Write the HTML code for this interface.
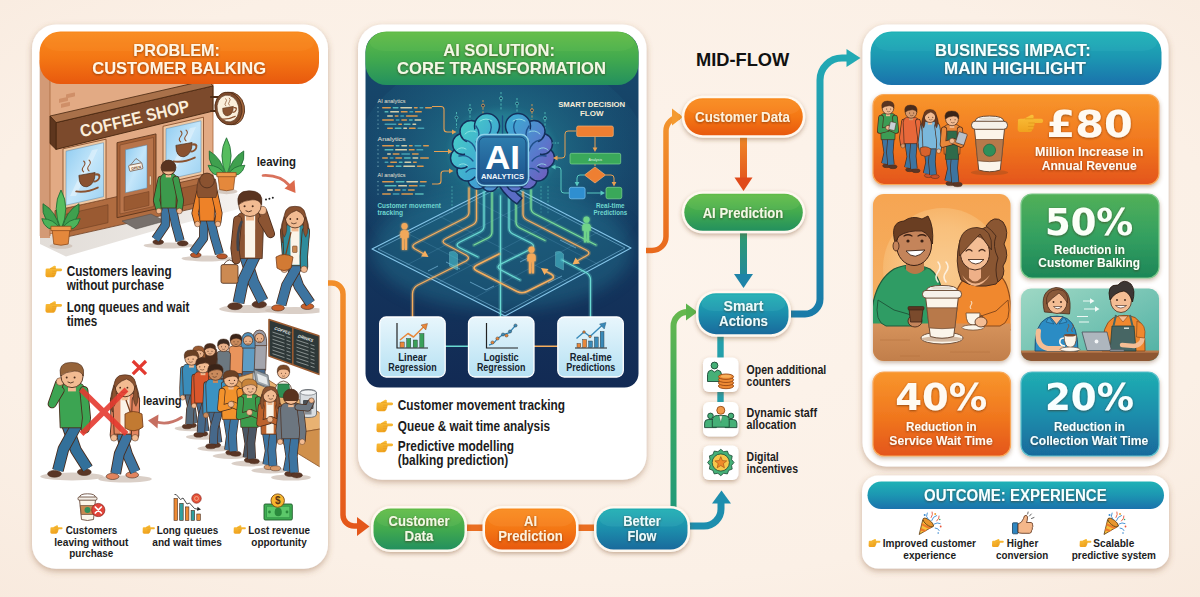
<!DOCTYPE html>
<html lang="en"><head><meta charset="utf-8"><title>AI solution for customer balking</title>
<style>
html,body{margin:0;padding:0;background:#fbeee2;}
body{width:1200px;height:597px;overflow:hidden;}
svg{display:block;font-family:"Liberation Sans", "DejaVu Sans", sans-serif;}
</style></head>
<body>
<svg width="1200" height="597" viewBox="0 0 1200 597">
<defs>
<radialGradient id="bg" cx="50%" cy="45%" r="75%">
 <stop offset="0" stop-color="#fdf4ec"/><stop offset="0.7" stop-color="#fbf0e6"/><stop offset="1" stop-color="#f8eade"/>
</radialGradient>
<filter id="sh" x="-10%" y="-10%" width="120%" height="125%">
 <feDropShadow dx="0" dy="2.5" stdDeviation="3" flood-color="#8a5a34" flood-opacity="0.42"/>
</filter>
<filter id="shs" x="-15%" y="-20%" width="130%" height="150%">
 <feDropShadow dx="0" dy="2" stdDeviation="2" flood-color="#7a4a20" flood-opacity="0.40"/>
</filter>
<filter id="ts" x="-5%" y="-20%" width="110%" height="150%">
 <feDropShadow dx="0" dy="0.8" stdDeviation="0.8" flood-color="#4a2200" flood-opacity="0.6"/>
</filter>
<filter id="glow" x="-20%" y="-20%" width="140%" height="140%">
 <feGaussianBlur stdDeviation="1.2" result="b"/><feMerge><feMergeNode in="b"/><feMergeNode in="SourceGraphic"/></feMerge>
</filter>
<filter id="blur3"><feGaussianBlur stdDeviation="3"/></filter>
<filter id="blur8"><feGaussianBlur stdDeviation="8"/></filter>
<linearGradient id="gOr" x1="0" y1="0" x2="0" y2="1">
 <stop offset="0" stop-color="#f98a1e"/><stop offset="0.5" stop-color="#f47714"/><stop offset="1" stop-color="#e8590e"/>
</linearGradient>
<linearGradient id="gOrBox" x1="0" y1="0" x2="0" y2="1">
 <stop offset="0" stop-color="#f8962c"/><stop offset="0.55" stop-color="#f0761e"/><stop offset="1" stop-color="#e4551a"/>
</linearGradient>
<linearGradient id="gGr" x1="0" y1="0" x2="0" y2="1">
 <stop offset="0" stop-color="#62bc48"/><stop offset="0.5" stop-color="#42aa4e"/><stop offset="1" stop-color="#23905e"/>
</linearGradient>
<linearGradient id="gGrBox" x1="0" y1="0" x2="0" y2="1">
 <stop offset="0" stop-color="#52b058"/><stop offset="0.5" stop-color="#34a060"/><stop offset="1" stop-color="#1d8658"/>
</linearGradient>
<linearGradient id="gTe" x1="0" y1="0" x2="0" y2="1">
 <stop offset="0" stop-color="#1fb2b6"/><stop offset="0.5" stop-color="#1c96b2"/><stop offset="1" stop-color="#1a72ac"/>
</linearGradient>
<linearGradient id="gTeBox" x1="0" y1="0" x2="0" y2="1">
 <stop offset="0" stop-color="#20aeb2"/><stop offset="0.5" stop-color="#1c8eac"/><stop offset="1" stop-color="#196a9c"/>
</linearGradient>
<linearGradient id="gArrO" x1="0" y1="0" x2="0" y2="1">
 <stop offset="0" stop-color="#f28e2a"/><stop offset="1" stop-color="#e4571a"/>
</linearGradient>
<linearGradient id="gArrO2" gradientUnits="userSpaceOnUse" x1="0" y1="100" x2="0" y2="260">
 <stop offset="0" stop-color="#f49a30"/><stop offset="1" stop-color="#e8671c"/>
</linearGradient>
<linearGradient id="gArrO3" gradientUnits="userSpaceOnUse" x1="0" y1="135" x2="0" y2="192">
 <stop offset="0" stop-color="#f08a28"/><stop offset="1" stop-color="#e04a1a"/>
</linearGradient>
<linearGradient id="gArrG" gradientUnits="userSpaceOnUse" x1="0" y1="300" x2="0" y2="510">
 <stop offset="0" stop-color="#6cba4c"/><stop offset="0.5" stop-color="#3aa860"/><stop offset="1" stop-color="#1f9a7a"/>
</linearGradient>
<linearGradient id="gArrGT" gradientUnits="userSpaceOnUse" x1="0" y1="230" x2="0" y2="290">
 <stop offset="0" stop-color="#2f9c6c"/><stop offset="1" stop-color="#1f84a8"/>
</linearGradient>
<linearGradient id="gArrT" gradientUnits="userSpaceOnUse" x1="0" y1="50" x2="0" y2="320">
 <stop offset="0" stop-color="#22aab4"/><stop offset="1" stop-color="#1a7aa8"/>
</linearGradient>
<linearGradient id="gAI" x1="0" y1="0" x2="0" y2="1">
 <stop offset="0" stop-color="#174c6e"/><stop offset="0.35" stop-color="#153e64"/><stop offset="1" stop-color="#122a54"/>
</linearGradient>
<radialGradient id="gAIglow" cx="50%" cy="45%" r="55%">
 <stop offset="0" stop-color="#2a949e" stop-opacity="0.85"/><stop offset="0.6" stop-color="#1f6e8a" stop-opacity="0.42"/><stop offset="1" stop-color="#1f6a88" stop-opacity="0"/>
</radialGradient>
<linearGradient id="gBrain" x1="0" y1="0" x2="1" y2="0.6">
 <stop offset="0" stop-color="#3bb7b8"/><stop offset="0.45" stop-color="#3d93c4"/><stop offset="1" stop-color="#6a55b0"/>
</linearGradient>
<linearGradient id="gChip" x1="0" y1="0" x2="0" y2="1">
 <stop offset="0" stop-color="#2f80b0"/><stop offset="1" stop-color="#1b4f8a"/>
</linearGradient>
<linearGradient id="gLB" x1="0" y1="0" x2="0" y2="1">
 <stop offset="0" stop-color="#e8f6fc"/><stop offset="1" stop-color="#b6e1f3"/>
</linearGradient>
<linearGradient id="gPh1" x1="0" y1="0" x2="0" y2="1">
 <stop offset="0" stop-color="#f6a552"/><stop offset="1" stop-color="#f4b56c"/>
</linearGradient>
<radialGradient id="gPh1c" cx="50%" cy="50%" r="50%">
 <stop offset="0" stop-color="#fde3b6"/><stop offset="0.7" stop-color="#fbd39a"/><stop offset="1" stop-color="#f8c27e"/>
</radialGradient>
<linearGradient id="gPh2" x1="0" y1="0" x2="1" y2="1">
 <stop offset="0" stop-color="#9ed8c4"/><stop offset="1" stop-color="#4fb0a4"/>
</linearGradient>
<linearGradient id="gWin" x1="0" y1="0" x2="1" y2="1">
 <stop offset="0" stop-color="#8ecbf0"/><stop offset="0.5" stop-color="#c4e6fa"/><stop offset="1" stop-color="#9dd2f2"/>
</linearGradient>
<linearGradient id="gHand" x1="0" y1="0" x2="0" y2="1"><stop offset="0" stop-color="#fac03a"/><stop offset="1" stop-color="#f0a21e"/></linearGradient>
</defs>
<rect width="1200" height="597" fill="url(#bg)"/>
<rect x="32" y="24.5" width="296" height="544.3" rx="24" fill="#ffffff" filter="url(#sh)"/>
<rect x="358" y="24.5" width="288.5" height="455.3" rx="24" fill="#ffffff" filter="url(#sh)"/>
<rect x="862.5" y="24.5" width="306" height="442" rx="24" fill="#ffffff" filter="url(#sh)"/>
<rect x="862" y="475.5" width="307" height="93" rx="16" fill="#ffffff" filter="url(#sh)"/>
<g id="panel1">
<clipPath id="cp1"><rect x="39.5" y="32" width="280" height="528" rx="18"/></clipPath>
<g clip-path="url(#cp1)" id="p1art">
<linearGradient id="gPave" x1="0" y1="0" x2="1" y2="0"><stop offset="0" stop-color="#e2ddd8"/><stop offset="0.6" stop-color="#ebe7e3"/><stop offset="1" stop-color="#f8f6f4"/></linearGradient>
<path d="M40,230 L213,188 L262,200 L235,210 L150,232 L66,256.5 L40,244 Z" fill="url(#gPave)"/>
<path d="M40.0,60.0 L213.0,21.1 L213.0,197.1 L40.0,236.0 Z" fill="#e2aa84" stroke="#a8683e" stroke-width="0.8" stroke-linejoin="round"/>
<rect x="40" y="60" width="10" height="178" fill="#d39a76"/><path d="M50,60 V236" stroke="#a8683e" stroke-width="0.8"/>
<rect x="59" y="99" width="9" height="4" rx="0.6" fill="#cf8f68" transform="skewY(-12.7)" transform-origin="59 99"/>
<rect x="66" y="94.5" width="9" height="4" rx="0.6" fill="#cf8f68" transform="skewY(-12.7)" transform-origin="66 94.5"/>
<rect x="61" y="104" width="9" height="4" rx="0.6" fill="#cf8f68" transform="skewY(-12.7)" transform-origin="61 104"/>
<path d="M55.0,210.6 L213.0,175.1 L213.0,204.1 L55.0,239.6 Z" fill="#b06c40" stroke="#6e3f22" stroke-width="0.8" stroke-linejoin="round"/>
<path d="M62.0,215.1 L108.0,204.7 L108.0,222.7 L62.0,233.1 Z" fill="#9a5a32" stroke="#6e3f22" stroke-width="0.6" stroke-linejoin="round"/>
<path d="M160.0,193.0 L205.0,182.9 L205.0,200.9 L160.0,211.0 Z" fill="#9a5a32" stroke="#6e3f22" stroke-width="0.6" stroke-linejoin="round"/>
<path d="M56,122.6 L213,85.9 L213,111.1 L56,149.4 Z" fill="#7c4a2c" stroke="#46260f" stroke-width="0.9" stroke-linejoin="round"/>
<path d="M56,122.6 L213,85.9 L207.5,80 L50,116 Z" fill="#a9714a" stroke="#46260f" stroke-width="0.8" stroke-linejoin="round"/>
<path d="M50,116 L56,122.6 L56,149.4 L50,143.5 Z" fill="#5e361e" stroke="#46260f" stroke-width="0.8" stroke-linejoin="round"/>
<path d="M63.0,148.8 L106.0,139.2 L106.0,199.2 L63.0,208.8 Z" fill="#f0c9a4" stroke="#8a5230" stroke-width="0.9" stroke-linejoin="round"/>
<path d="M66.0,151.2 L103.5,142.7 L103.5,196.7 L66.0,205.2 Z" fill="url(#gWin)" stroke="#5a87a8" stroke-width="0.5" stroke-linejoin="round"/>
<path d="M163.0,126.3 L203.5,117.2 L203.5,174.2 L163.0,183.3 Z" fill="#f0c9a4" stroke="#8a5230" stroke-width="0.9" stroke-linejoin="round"/>
<path d="M166.0,128.7 L201.0,120.8 L201.0,171.8 L166.0,179.7 Z" fill="url(#gWin)" stroke="#5a87a8" stroke-width="0.5" stroke-linejoin="round"/>
<path d="M70,196 L92,150 L98,149 L76,196 Z" fill="#ffffff" opacity="0.35"/>
<path d="M170,170 L190,128 L196,127 L176,170 Z" fill="#ffffff" opacity="0.35"/>
<path d="M117.0,142.7 L156.0,133.9 L156.0,208.9 L117.0,217.7 Z" fill="#a66238" stroke="#5e351c" stroke-width="0.9" stroke-linejoin="round"/>
<path d="M120.0,145.0 L153.5,137.5 L153.5,206.5 L120.0,214.0 Z" fill="#b8744a" stroke="#6e3f22" stroke-width="0.5" stroke-linejoin="round"/>
<path d="M125.5,149.8 L147.0,144.9 L147.0,187.9 L125.5,192.8 Z" fill="url(#gWin)" stroke="#5a87a8" stroke-width="0.5" stroke-linejoin="round"/>
<path d="M124.0,197.1 L149.0,191.5 L149.0,205.5 L124.0,211.1 Z" fill="#9a5a32" stroke="#6e3f22" stroke-width="0.5" stroke-linejoin="round"/>
<rect x="149.5" y="176" width="1.6" height="9" rx="0.8" fill="#f3e3c8" stroke="#6e3f22" stroke-width="0.3"/>
<path d="M130.5,165 L136,158.5 L141.5,162.5" fill="none" stroke="#5e351c" stroke-width="0.6"/>
<rect x="129" y="164" width="13.5" height="6" rx="0.8" fill="#fbf3e6" stroke="#5e351c" stroke-width="0.6" transform="rotate(-12 136 167)"/>
<text x="136" y="169" font-size="3.6" font-weight="bold" fill="#6e3f22" text-anchor="middle" transform="rotate(-12 136 167)">OPEN</text>
<path d="M122,221 L151,214 L165,221 L136,229 Z" fill="#77706c" stroke="#4e4844" stroke-width="0.5"/>
<g transform="translate(87,178) scale(1.35) skewY(-10)"><path d="M-6,-3 H6 Q6,6 0,6.5 Q-6,6 -6,-3 Z" fill="#8a5230" stroke="#4e2c16" stroke-width="0.5"/><path d="M6,-1.5 Q10,-1.5 9,1.5 Q8,4 5,3.5" fill="none" stroke="#8a5230" stroke-width="1.5"/><path d="M-8,8.5 Q0,11 8,8.5" fill="none" stroke="#8a5230" stroke-width="1.4" stroke-linecap="round"/><path d="M-2.5,-5 q-2,-2 0,-4 q2,-2 0,-4 M1.5,-5 q-2,-2 0,-4 q2,-2 0,-4" fill="none" stroke="#8a5230" stroke-width="0.8" stroke-linecap="round"/></g>
<g transform="translate(184,148) scale(1.35) skewY(-10)"><path d="M-6,-3 H6 Q6,6 0,6.5 Q-6,6 -6,-3 Z" fill="#8a5230" stroke="#4e2c16" stroke-width="0.5"/><path d="M6,-1.5 Q10,-1.5 9,1.5 Q8,4 5,3.5" fill="none" stroke="#8a5230" stroke-width="1.5"/><path d="M-8,8.5 Q0,11 8,8.5" fill="none" stroke="#8a5230" stroke-width="1.4" stroke-linecap="round"/><path d="M-2.5,-5 q-2,-2 0,-4 q2,-2 0,-4 M1.5,-5 q-2,-2 0,-4 q2,-2 0,-4" fill="none" stroke="#8a5230" stroke-width="0.8" stroke-linecap="round"/></g>
<text x="136" y="124.3" font-size="17.2" font-weight="bold" fill="#fbeeda" text-anchor="middle" textLength="112" lengthAdjust="spacingAndGlyphs" transform="rotate(-13.4 136 124.3)">COFFEE SHOP</text>
<path d="M211,97 h9 M211,111 h7" stroke="#4e2c16" stroke-width="2.200" stroke-linecap="round"/>
<ellipse cx="231" cy="108.500" rx="13.500" ry="16.500" fill="#a86a40" stroke="#4e2c16" stroke-width="0.8" transform="rotate(-12 231 108.500)"/>
<ellipse cx="228.500" cy="108.500" rx="13.500" ry="16.500" fill="#7c4a2c" stroke="#4e2c16" stroke-width="0.8" transform="rotate(-12 228.500 108.500)"/>
<ellipse cx="228" cy="108.500" rx="10.800" ry="13.500" fill="#fbefdc" stroke="#4e2c16" stroke-width="0.6" transform="rotate(-12 228 108.500)"/>
<g transform="translate(228,110) scale(0.9) skewY(-10)"><path d="M-6,-3 H6 Q6,6 0,6.5 Q-6,6 -6,-3 Z" fill="#8a5230" stroke="#4e2c16" stroke-width="0.5"/><path d="M6,-1.5 Q10,-1.5 9,1.5 Q8,4 5,3.5" fill="none" stroke="#8a5230" stroke-width="1.5"/><path d="M-8,8.5 Q0,11 8,8.5" fill="none" stroke="#8a5230" stroke-width="1.4" stroke-linecap="round"/><path d="M-2.5,-5 q-2,-2 0,-4 q2,-2 0,-4 M1.5,-5 q-2,-2 0,-4 q2,-2 0,-4" fill="none" stroke="#8a5230" stroke-width="0.8" stroke-linecap="round"/></g>
<g transform="translate(61,245) scale(0.96)"><ellipse cx="0" cy="1" rx="12" ry="3" fill="#cdbfb4" opacity="0.8"/><g transform="translate(0,-17) scale(1.25,1.3) translate(0,17)"><path d="M-1,-17 Q-17,-22 -15,-37 Q-4,-31 -1,-17 Z M1,-17 Q17,-22 15,-37 Q4,-31 1,-17 Z" fill="#3fa04e" stroke="#1f6a34" stroke-width="0.7"/><path d="M-1,-17 Q-13,-14 -16,-25 Q-6,-25 -1,-17 Z M1,-17 Q13,-14 16,-25 Q6,-25 1,-17 Z" fill="#4db35a" stroke="#1f6a34" stroke-width="0.7"/><path d="M0,-16 Q-8,-34 0,-48 Q8,-34 0,-16 Z" fill="#56bd5e" stroke="#1f6a34" stroke-width="0.7"/></g><path d="M-9.5,-18 H9.5 L7.5,-1 Q0,1.5 -7.5,-1 Z" fill="#e4883c" stroke="#8a4a1c" stroke-width="0.8"/><path d="M-10.5,-19.5 H10.5 V-15 H-10.5 Z" fill="#ef9a4c" stroke="#8a4a1c" stroke-width="0.8"/></g>
<g transform="translate(226.5,190.5) scale(0.92)"><ellipse cx="0" cy="1" rx="12" ry="3" fill="#cdbfb4" opacity="0.8"/><g transform="translate(0,-17) scale(1.25,1.3) translate(0,17)"><path d="M-1,-17 Q-17,-22 -15,-37 Q-4,-31 -1,-17 Z M1,-17 Q17,-22 15,-37 Q4,-31 1,-17 Z" fill="#3fa04e" stroke="#1f6a34" stroke-width="0.7"/><path d="M-1,-17 Q-13,-14 -16,-25 Q-6,-25 -1,-17 Z M1,-17 Q13,-14 16,-25 Q6,-25 1,-17 Z" fill="#4db35a" stroke="#1f6a34" stroke-width="0.7"/><path d="M0,-16 Q-8,-34 0,-48 Q8,-34 0,-16 Z" fill="#56bd5e" stroke="#1f6a34" stroke-width="0.7"/></g><path d="M-9.5,-18 H9.5 L7.5,-1 Q0,1.5 -7.5,-1 Z" fill="#e4883c" stroke="#8a4a1c" stroke-width="0.8"/><path d="M-10.5,-19.5 H10.5 V-15 H-10.5 Z" fill="#ef9a4c" stroke="#8a4a1c" stroke-width="0.8"/></g>
<ellipse cx="168.5" cy="245.5" rx="24.9" ry="3.0" fill="#cdbfb4" opacity="0.75"/>
<ellipse cx="158.2" cy="242.0" rx="5.3" ry="2.6" fill="#5a3626" stroke="#4a2c1c" stroke-width="0.6"/>
<path d="M165.3,205.4 L165.3,225.2 L155.6,239.4" fill="none" stroke="#4a2c1c" stroke-width="9.2" stroke-linecap="butt" stroke-linejoin="round"/>
<path d="M165.3,205.4 L165.3,225.2 L155.6,239.4" fill="none" stroke="#3d74a0" stroke-width="7.6" stroke-linecap="butt" stroke-linejoin="round"/>
<ellipse cx="182.7" cy="243.3" rx="5.3" ry="2.6" fill="#5a3626" stroke="#4a2c1c" stroke-width="0.6"/>
<path d="M171.7,205.4 L175.6,224.4 L180.1,240.7" fill="none" stroke="#4a2c1c" stroke-width="9.2" stroke-linecap="butt" stroke-linejoin="round"/>
<path d="M171.7,205.4 L175.6,224.4 L180.1,240.7" fill="none" stroke="#3d74a0" stroke-width="7.6" stroke-linecap="butt" stroke-linejoin="round"/>
<path d="M161.0,179.4 L156.5,200.3 L158.9,208.9" fill="none" stroke="#4a2c1c" stroke-width="7.1" stroke-linecap="round" stroke-linejoin="round"/>
<path d="M161.0,179.4 L156.5,200.3 L158.9,208.9" fill="none" stroke="#3c9a4c" stroke-width="5.5" stroke-linecap="round" stroke-linejoin="round"/>
<path d="M160.2,180.1 Q160.2,174.9 163.9,173.6 L173.1,173.6 Q176.8,174.9 176.8,180.1 L175.9,208.0 L161.1,208.0 Z" fill="#3c9a4c" stroke="#4a2c1c" stroke-width="0.8" stroke-linejoin="round"/>
<path d="M176.0,179.4 L180.5,200.3 L179.4,208.9" fill="none" stroke="#4a2c1c" stroke-width="7.1" stroke-linecap="round" stroke-linejoin="round"/>
<path d="M176.0,179.4 L180.5,200.3 L179.4,208.9" fill="none" stroke="#3c9a4c" stroke-width="5.5" stroke-linecap="round" stroke-linejoin="round"/>
<circle cx="179.4" cy="211.0" r="2.8" fill="#f2bb92" stroke="#4a2c1c" stroke-width="0.5"/>
<circle cx="158.9" cy="211.0" r="2.8" fill="#f2bb92" stroke="#4a2c1c" stroke-width="0.5"/>
<rect x="165.8" y="171.9" width="5.3" height="5.5" fill="#f2bb92"/>
<circle cx="168.5" cy="167.5" r="7.4" fill="#5a3420" stroke="#4a2c1c" stroke-width="0.8"/>
<path d="M162.6,171.6 Q168.5,177.5 174.4,171.6 Z" fill="#f2bb92"/>
<ellipse cx="207.0" cy="258.5" rx="25.5" ry="3.0" fill="#cdbfb4" opacity="0.75"/>
<ellipse cx="195.8" cy="255.0" rx="5.3" ry="2.6" fill="#b8562a" stroke="#4a2c1c" stroke-width="0.6"/>
<path d="M203.9,218.4 L203.6,238.2 L193.2,252.4" fill="none" stroke="#4a2c1c" stroke-width="9.2" stroke-linecap="butt" stroke-linejoin="round"/>
<path d="M203.9,218.4 L203.6,238.2 L193.2,252.4" fill="none" stroke="#3d74a0" stroke-width="7.6" stroke-linecap="butt" stroke-linejoin="round"/>
<ellipse cx="222.0" cy="256.3" rx="5.3" ry="2.6" fill="#b8562a" stroke="#4a2c1c" stroke-width="0.6"/>
<path d="M210.1,218.4 L214.6,237.4 L219.4,253.7" fill="none" stroke="#4a2c1c" stroke-width="9.2" stroke-linecap="butt" stroke-linejoin="round"/>
<path d="M210.1,218.4 L214.6,237.4 L219.4,253.7" fill="none" stroke="#3d74a0" stroke-width="7.6" stroke-linecap="butt" stroke-linejoin="round"/>
<path d="M199.7,192.4 L195.0,213.3 L197.5,221.9" fill="none" stroke="#4a2c1c" stroke-width="7.1" stroke-linecap="round" stroke-linejoin="round"/>
<path d="M199.7,192.4 L195.0,213.3 L197.5,221.9" fill="none" stroke="#ee8228" stroke-width="5.5" stroke-linecap="round" stroke-linejoin="round"/>
<path d="M198.9,193.1 Q198.9,187.9 202.5,186.6 L211.5,186.6 Q215.1,187.9 215.1,193.1 L214.2,221.0 L199.8,221.0 Z" fill="#ee8228" stroke="#4a2c1c" stroke-width="0.8" stroke-linejoin="round"/>
<path d="M214.3,192.4 L219.0,213.3 L217.9,221.9" fill="none" stroke="#4a2c1c" stroke-width="7.1" stroke-linecap="round" stroke-linejoin="round"/>
<path d="M214.3,192.4 L219.0,213.3 L217.9,221.9" fill="none" stroke="#ee8228" stroke-width="5.5" stroke-linecap="round" stroke-linejoin="round"/>
<circle cx="217.9" cy="224.0" r="2.8" fill="#f2bb92" stroke="#4a2c1c" stroke-width="0.5"/>
<circle cx="197.5" cy="224.0" r="2.8" fill="#f2bb92" stroke="#4a2c1c" stroke-width="0.5"/>
<rect x="204.3" y="184.9" width="5.3" height="5.5" fill="#f2bb92"/>
<path d="M198.7,179.0 Q195.2,190.9 198.1,197.5 L215.9,197.5 Q218.8,190.9 215.3,179.0 Z" fill="#8a5230" stroke="#4a2c1c" stroke-width="0.6"/>
<circle cx="207.0" cy="180.5" r="7.4" fill="#8a5230" stroke="#4a2c1c" stroke-width="0.8"/>
<ellipse cx="250.0" cy="309.0" rx="30.9" ry="4.1" fill="#cdbfb4" opacity="0.75"/>
<ellipse cx="259.3" cy="304.4" rx="7.2" ry="3.5" fill="#5a3626" stroke="#4a2c1c" stroke-width="0.6"/>
<path d="M244.8,255.1 L253.2,281.8 L262.8,301.0" fill="none" stroke="#4a2c1c" stroke-width="11.8" stroke-linecap="butt" stroke-linejoin="round"/>
<path d="M244.8,255.1 L253.2,281.8 L262.8,301.0" fill="none" stroke="#3d74a0" stroke-width="10.2" stroke-linecap="butt" stroke-linejoin="round"/>
<ellipse cx="235.0" cy="306.2" rx="7.2" ry="3.5" fill="#5a3626" stroke="#4a2c1c" stroke-width="0.6"/>
<path d="M255.2,255.1 L243.0,280.7 L238.5,302.7" fill="none" stroke="#4a2c1c" stroke-width="11.8" stroke-linecap="butt" stroke-linejoin="round"/>
<path d="M255.2,255.1 L243.0,280.7 L238.5,302.7" fill="none" stroke="#3d74a0" stroke-width="10.2" stroke-linecap="butt" stroke-linejoin="round"/>
<path d="M236.3,220.9 Q236.3,214.0 242.5,212.2 L257.5,212.2 Q263.7,214.0 263.7,220.9 L262.2,258.6 L237.8,258.6 Z" fill="#8c5432" stroke="#4a2c1c" stroke-width="0.8" stroke-linejoin="round"/>
<path d="M244.8,212.8 L255.2,212.8 L255.1,257.5 L244.9,257.5 Z" fill="#fbf4e8"/>
<path d="M237.7,220.0 L234.9,248.2 L236.3,259.8" fill="none" stroke="#4a2c1c" stroke-width="9.0" stroke-linecap="round" stroke-linejoin="round"/>
<path d="M237.7,220.0 L234.9,248.2 L236.3,259.8" fill="none" stroke="#8c5432" stroke-width="7.4" stroke-linecap="round" stroke-linejoin="round"/>
<path d="M262.3,220.0 L270.5,233.7 L263.0,212.1" fill="none" stroke="#4a2c1c" stroke-width="9.0" stroke-linecap="round" stroke-linejoin="round"/>
<path d="M262.3,220.0 L270.5,233.7 L263.0,212.1" fill="none" stroke="#8c5432" stroke-width="7.4" stroke-linecap="round" stroke-linejoin="round"/>
<circle cx="262.3" cy="210.4" r="4.1" fill="#f2bb92" stroke="#4a2c1c" stroke-width="0.5"/>
<path d="M223.6,264.6 Q229.5,255.3 235.4,264.6" fill="none" stroke="#4a2c1c" stroke-width="0.8"/>
<rect x="221.0" y="264.6" width="17.0" height="18.7" rx="2.0" fill="#cc8a52" stroke="#4a2c1c" stroke-width="0.8"/>
<rect x="246.0" y="212.1" width="8.0" height="8.4" fill="#f2bb92"/>
<circle cx="250.0" cy="205.3" r="11.2" fill="#f2bb92" stroke="#4a2c1c" stroke-width="0.8"/>
<path d="M238.3,204.8 Q235.5,190.8 248.9,190.8 Q264.0,190.3 261.7,204.8 Q258.9,199.2 252.2,199.8 Q243.3,200.3 238.3,204.8 Z" fill="#5a3420" stroke="#4a2c1c" stroke-width="0.6"/>
<circle cx="244.6" cy="206.2" r="1.01" fill="#4a2c1c"/><circle cx="252.7" cy="206.2" r="1.01" fill="#4a2c1c"/>
<path d="M245.9,210.9 Q248.7,212.9 251.5,210.9" fill="none" stroke="#4a2c1c" stroke-width="0.89" stroke-linecap="round"/>
<path d="M241.500,222 Q236.500,232 238,250" fill="none" stroke="#3f444c" stroke-width="2.600" stroke-linecap="round"/>
<ellipse cx="295.0" cy="310.5" rx="29.9" ry="3.6" fill="#cdbfb4" opacity="0.75"/>
<ellipse cx="307.4" cy="306.4" rx="6.4" ry="3.1" fill="#c8602a" stroke="#4a2c1c" stroke-width="0.6"/>
<path d="M290.4,262.6 L298.9,286.3 L310.4,303.3" fill="none" stroke="#4a2c1c" stroke-width="10.7" stroke-linecap="butt" stroke-linejoin="round"/>
<path d="M290.4,262.6 L298.9,286.3 L310.4,303.3" fill="none" stroke="#3d74a0" stroke-width="9.1" stroke-linecap="butt" stroke-linejoin="round"/>
<ellipse cx="278.0" cy="307.9" rx="6.4" ry="3.1" fill="#c8602a" stroke="#4a2c1c" stroke-width="0.6"/>
<path d="M299.6,262.6 L286.5,285.3 L281.1,304.9" fill="none" stroke="#4a2c1c" stroke-width="10.7" stroke-linecap="butt" stroke-linejoin="round"/>
<path d="M299.6,262.6 L286.5,285.3 L281.1,304.9" fill="none" stroke="#3d74a0" stroke-width="9.1" stroke-linecap="butt" stroke-linejoin="round"/>
<path d="M284.1,231.4 L286.1,256.4 L284.4,266.7" fill="none" stroke="#4a2c1c" stroke-width="8.2" stroke-linecap="round" stroke-linejoin="round"/>
<path d="M284.1,231.4 L286.1,256.4 L284.4,266.7" fill="none" stroke="#2e8c9c" stroke-width="6.6" stroke-linecap="round" stroke-linejoin="round"/>
<path d="M284.1,216.3 Q278.4,231.8 282.3,242.6 L307.7,242.6 Q311.6,231.8 305.9,216.3 Z" fill="#8a5230" stroke="#4a2c1c" stroke-width="0.6"/>
<path d="M282.8,232.2 Q282.8,226.1 288.3,224.5 L301.7,224.5 Q307.2,226.1 307.2,232.2 L305.8,265.7 L284.2,265.7 Z" fill="#2e8c9c" stroke="#4a2c1c" stroke-width="0.8" stroke-linejoin="round"/>
<path d="M290.4,225.0 L299.6,225.0 L299.5,264.7 L290.5,264.7 Z" fill="#fbf4e8"/>
<path d="M305.9,231.4 L303.9,256.4 L304.1,266.7" fill="none" stroke="#4a2c1c" stroke-width="8.2" stroke-linecap="round" stroke-linejoin="round"/>
<path d="M305.9,231.4 L303.9,256.4 L304.1,266.7" fill="none" stroke="#2e8c9c" stroke-width="6.6" stroke-linecap="round" stroke-linejoin="round"/>
<circle cx="304.1" cy="269.3" r="3.3" fill="#f2bb92" stroke="#4a2c1c" stroke-width="0.5"/>
<circle cx="284.4" cy="269.3" r="3.3" fill="#f2bb92" stroke="#4a2c1c" stroke-width="0.5"/>
<rect x="291.5" y="224.1" width="7.0" height="7.3" fill="#f2bb92"/>
<circle cx="295.0" cy="218.2" r="9.7" fill="#f2bb92" stroke="#4a2c1c" stroke-width="0.8"/>
<path d="M284.3,223.6 Q282.3,205.5 295.0,206.3 Q307.7,205.5 305.7,223.6 Q304.7,213.3 296.5,210.4 Q285.7,213.8 284.3,223.6 Z" fill="#8a5230" stroke="#4a2c1c" stroke-width="0.6"/>
<path d="M284.5,217.2 Q279.9,229.9 284.3,237.2 Q288.2,230.9 286.0,221.6 Z" fill="#8a5230" stroke="#4a2c1c" stroke-width="0.5"/>
<path d="M305.5,217.2 Q310.1,229.9 305.7,237.2 Q301.8,230.9 304.0,221.6 Z" fill="#8a5230" stroke="#4a2c1c" stroke-width="0.5"/>
<circle cx="290.3" cy="219.0" r="0.88" fill="#4a2c1c"/><circle cx="297.3" cy="219.0" r="0.88" fill="#4a2c1c"/>
<path d="M291.4,223.1 Q293.8,224.8 296.3,223.1" fill="none" stroke="#4a2c1c" stroke-width="0.78" stroke-linecap="round"/>
<path d="M291,232 L285,258" stroke="#7a3f1c" stroke-width="1.2"/>
<path d="M276,257 Q284,252 293,257 L291,268 Q284,273 277,268 Z" fill="#d27a34" stroke="#7a3f1c" stroke-width="0.8"/>
<rect x="292.5" y="246" width="4.6" height="6.5" rx="0.8" fill="#c88850" stroke="#5e351c" stroke-width="0.5"/>
<circle cx="266.0" cy="199.6" r="1" fill="#222"/>
<circle cx="269.4" cy="198.7" r="1" fill="#222"/>
<circle cx="272.8" cy="197.79999999999998" r="1" fill="#222"/>
<path d="M263,175.500 Q280,174.500 290,186" fill="none" stroke="#d9725c" stroke-width="2.700" stroke-linecap="round"/>
<path d="M284.500,188.500 L295.500,193 L294.500,180 Z" fill="#dc6a4c"/>
<path d="M269,319.5 L319.5,336 L319.5,374.5 L269,356 Z" fill="#2e3838" stroke="#9a5a30" stroke-width="1.6" stroke-linejoin="round"/>
<path d="M292.8,327.5 L292.8,364.5" stroke="#9a5a30" stroke-width="1.6"/>
<path d="M272.5,332.1 l12,3.9 M286.5,336.7 l4,1.3" stroke="#cfd6d2" stroke-width="0.7" opacity="0.8"/>
<path d="M272.5,335.7 l12,3.9 M286.5,340.3 l4,1.3" stroke="#cfd6d2" stroke-width="0.7" opacity="0.8"/>
<path d="M272.5,339.3 l12,3.9 M286.5,343.9 l4,1.3" stroke="#cfd6d2" stroke-width="0.7" opacity="0.8"/>
<path d="M272.5,342.9 l12,3.9 M286.5,347.5 l4,1.3" stroke="#cfd6d2" stroke-width="0.7" opacity="0.8"/>
<path d="M272.5,346.5 l12,3.9 M286.5,351.1 l4,1.3" stroke="#cfd6d2" stroke-width="0.7" opacity="0.8"/>
<path d="M272.5,350.1 l12,3.9 M286.5,354.7 l4,1.3" stroke="#cfd6d2" stroke-width="0.7" opacity="0.8"/>
<path d="M272.5,353.7 l12,3.9 M286.5,358.3 l4,1.3" stroke="#cfd6d2" stroke-width="0.7" opacity="0.8"/>
<path d="M296.5,340.0 l12,3.9 M310.5,344.6 l4,1.3" stroke="#cfd6d2" stroke-width="0.7" opacity="0.8"/>
<path d="M296.5,343.6 l12,3.9 M310.5,348.2 l4,1.3" stroke="#cfd6d2" stroke-width="0.7" opacity="0.8"/>
<path d="M296.5,347.2 l12,3.9 M310.5,351.8 l4,1.3" stroke="#cfd6d2" stroke-width="0.7" opacity="0.8"/>
<path d="M296.5,350.8 l12,3.9 M310.5,355.4 l4,1.3" stroke="#cfd6d2" stroke-width="0.7" opacity="0.8"/>
<path d="M296.5,354.4 l12,3.9 M310.5,359.0 l4,1.3" stroke="#cfd6d2" stroke-width="0.7" opacity="0.8"/>
<path d="M296.5,358.0 l12,3.9 M310.5,362.6 l4,1.3" stroke="#cfd6d2" stroke-width="0.7" opacity="0.8"/>
<path d="M296.5,361.6 l12,3.9 M310.5,366.2 l4,1.3" stroke="#cfd6d2" stroke-width="0.7" opacity="0.8"/>
<text x="274" y="329.5" font-size="4.2" font-weight="bold" font-style="italic" fill="#e8ece8" transform="rotate(18 274 329.5)">COFFEE</text>
<text x="297.5" y="337.2" font-size="4.2" font-weight="bold" font-style="italic" fill="#e8ece8" transform="rotate(18 297.5 337.2)">DRINKS</text>
<path d="M252.5,346.6 Q252.5,342.6 259.5,342.6 Q266.5,342.6 266.5,346.6 L265.7,370.24 L253.3,370.24 Z" fill="#a3a4ac" stroke="#4a2c1c" stroke-width="0.7"/>
<rect x="253.9" y="369.2" width="11.2" height="20.8" fill="#46688a" stroke="#4a2c1c" stroke-width="0.6"/>
<path d="M252.3,345.6 Q251.70000000000002,329.79999999999995 259.5,330.0 Q267.3,329.79999999999995 266.70000000000005,345.6 Z" fill="#9a9ca6" stroke="#4a2c1c" stroke-width="0.7"/>
<circle cx="259.5" cy="338" r="4.6" fill="#e8b088" stroke="#4a2c1c" stroke-width="0.7"/>
<circle cx="257.5" cy="338.8" r="0.5" fill="#4a2c1c"/><circle cx="261.5" cy="338.8" r="0.5" fill="#4a2c1c"/>
<path d="M258.0,341 q1.5,1 3,0" fill="none" stroke="#4a2c1c" stroke-width="0.45"/>
<path d="M241,349.1 Q241,345.1 248,345.1 Q255,345.1 255,349.1 L254.2,372.74 L241.8,372.74 Z" fill="#5d9cc4" stroke="#4a2c1c" stroke-width="0.7"/>
<rect x="242.4" y="371.7" width="11.2" height="20.8" fill="#46688a" stroke="#4a2c1c" stroke-width="0.6"/>
<path d="M240.8,348.1 Q240.20000000000002,332.29999999999995 248,332.5 Q255.79999999999998,332.29999999999995 255.2,348.1 Z" fill="#4f8fba" stroke="#4a2c1c" stroke-width="0.7"/>
<circle cx="248" cy="340.5" r="4.6" fill="#e8b088" stroke="#4a2c1c" stroke-width="0.7"/>
<circle cx="246" cy="341.3" r="0.5" fill="#4a2c1c"/><circle cx="250" cy="341.3" r="0.5" fill="#4a2c1c"/>
<path d="M246.5,343.5 q1.5,1 3,0" fill="none" stroke="#4a2c1c" stroke-width="0.45"/>
<path d="M229,349.6 Q229,345.6 236,345.6 Q243,345.6 243,349.6 L242.2,374.48 L229.8,374.48 Z" fill="#e9945c" stroke="#4a2c1c" stroke-width="0.7"/>
<rect x="230.4" y="373.4" width="11.2" height="21.6" fill="#46688a" stroke="#4a2c1c" stroke-width="0.6"/>
<circle cx="236" cy="341" r="5.6" fill="#c98a5c" stroke="#4a2c1c" stroke-width="0.7"/>
<path d="M230.20000000000002,341 Q229.4,333.79999999999995 236,334.0 Q242.6,333.79999999999995 241.79999999999998,341 Q239.36,337.92 236,338.2 Q232.64,338.2 230.20000000000002,341 Z" fill="#3a2418" stroke="#4a2c1c" stroke-width="0.5"/>
<circle cx="234" cy="341.8" r="0.5" fill="#4a2c1c"/><circle cx="238" cy="341.8" r="0.5" fill="#4a2c1c"/>
<path d="M234.5,344 q1.5,1 3,0" fill="none" stroke="#4a2c1c" stroke-width="0.45"/>
<path d="M216.5,354.6 Q216.5,350.6 223.5,350.6 Q230.5,350.6 230.5,354.6 L229.7,379.48 L217.3,379.48 Z" fill="#6c7880" stroke="#4a2c1c" stroke-width="0.7"/>
<rect x="217.9" y="378.4" width="11.2" height="21.6" fill="#46688a" stroke="#4a2c1c" stroke-width="0.6"/>
<circle cx="223.5" cy="346" r="5.6" fill="#e8b088" stroke="#4a2c1c" stroke-width="0.7"/>
<path d="M217.70000000000002,346 Q216.9,338.79999999999995 223.5,339.0 Q230.1,338.79999999999995 229.29999999999998,346 Q226.86,342.92 223.5,343.2 Q220.14,343.2 217.70000000000002,346 Z" fill="#3a2a20" stroke="#4a2c1c" stroke-width="0.5"/>
<circle cx="221.5" cy="346.8" r="0.5" fill="#4a2c1c"/><circle cx="225.5" cy="346.8" r="0.5" fill="#4a2c1c"/>
<path d="M222.0,349 q1.5,1 3,0" fill="none" stroke="#4a2c1c" stroke-width="0.45"/>
<path d="M203,359.1 Q203,355.1 210,355.1 Q217,355.1 217,359.1 L216.2,381.5 L203.8,381.5 Z" fill="#3a8f98" stroke="#4a2c1c" stroke-width="0.7"/>
<rect x="204.4" y="380.5" width="11.2" height="20.0" fill="#46688a" stroke="#4a2c1c" stroke-width="0.6"/>
<path d="M203.4,349.5 Q202.0,361.1 204.4,365.1 L215.6,365.1 Q218.0,361.1 216.6,349.5 Z" fill="#4a2c1c" stroke="#4a2c1c" stroke-width="0.6"/>
<circle cx="210" cy="350.5" r="5.6" fill="#e8b088" stroke="#4a2c1c" stroke-width="0.7"/>
<path d="M204.20000000000002,350.5 Q203.4,343.29999999999995 210,343.5 Q216.6,343.29999999999995 215.79999999999998,350.5 Q213.36,347.42 210,347.7 Q206.64,347.7 204.20000000000002,350.5 Z" fill="#4a2c1c" stroke="#4a2c1c" stroke-width="0.5"/>
<circle cx="208" cy="351.3" r="0.5" fill="#4a2c1c"/><circle cx="212" cy="351.3" r="0.5" fill="#4a2c1c"/>
<path d="M208.5,353.5 q1.5,1 3,0" fill="none" stroke="#4a2c1c" stroke-width="0.45"/>
<path d="M191.5,361.6 Q191.5,357.6 198.5,357.6 Q205.5,357.6 205.5,361.6 L204.7,384.0 L192.3,384.0 Z" fill="#c45c30" stroke="#4a2c1c" stroke-width="0.7"/>
<rect x="192.9" y="383.0" width="11.2" height="20.0" fill="#46688a" stroke="#4a2c1c" stroke-width="0.6"/>
<path d="M191.9,352 Q190.5,363.6 192.9,367.6 L204.1,367.6 Q206.5,363.6 205.1,352 Z" fill="#9a5a30" stroke="#4a2c1c" stroke-width="0.6"/>
<circle cx="198.5" cy="353" r="5.6" fill="#e8b088" stroke="#4a2c1c" stroke-width="0.7"/>
<path d="M192.70000000000002,353 Q191.9,345.79999999999995 198.5,346.0 Q205.1,345.79999999999995 204.29999999999998,353 Q201.86,349.92 198.5,350.2 Q195.14,350.2 192.70000000000002,353 Z" fill="#9a5a30" stroke="#4a2c1c" stroke-width="0.5"/>
<circle cx="196.5" cy="353.8" r="0.5" fill="#4a2c1c"/><circle cx="200.5" cy="353.8" r="0.5" fill="#4a2c1c"/>
<path d="M197.0,356 q1.5,1 3,0" fill="none" stroke="#4a2c1c" stroke-width="0.45"/>
<path d="M236,378 L256,372 L320,413 L320,429 L297,433 Z" fill="#e8b272" stroke="#8a5428" stroke-width="0.8" stroke-linejoin="round"/>
<path d="M297,433 L320,429 L320,467 L297,453 Z" fill="#d0904c" stroke="#8a5428" stroke-width="0.8" stroke-linejoin="round"/>
<path d="M236,378 L297,433 L297,456 L236,402 Z" fill="#d4964f" stroke="#8a5428" stroke-width="0.8" stroke-linejoin="round"/>
<path d="M253,372 L267,378 L267,388 L253,382 Z" fill="#c9ced2" stroke="#565c62" stroke-width="0.7"/>
<path d="M254,369.5 L268,375 L270,388 L256,383 Z" fill="#9aa2a8" stroke="#565c62" stroke-width="0.7"/>
<path d="M257,373.5 L266.5,377.2 L267.8,385 L258.4,381.5 Z" fill="#e4e8ea"/>
<path d="M274.5,396 Q274,382 283.5,381 Q293,382 292.5,398 Z" fill="#f4f1ea" stroke="#4a2c1c" stroke-width="0.7"/>
<path d="M278,384 L289,384 L290.5,398 L277,397 Z" fill="#2f8f52" stroke="#1f5a34" stroke-width="0.6"/>
<circle cx="283.5" cy="372.5" r="6" fill="#f2bb92" stroke="#4a2c1c" stroke-width="0.7"/>
<path d="M277.3,372.5 Q276.5,364.8 283.5,365 Q290.5,364.8 289.7,372.5 Q288,368.8 283.5,369.2 Q279,368.8 277.3,372.5 Z" fill="#7a4a28" stroke="#4a2c1c" stroke-width="0.5"/>
<circle cx="281.4" cy="373.3" r="0.5" fill="#4a2c1c"/><circle cx="285.6" cy="373.3" r="0.5" fill="#4a2c1c"/><path d="M282,375.8 q1.5,1 3,0" fill="none" stroke="#4a2c1c" stroke-width="0.45"/>
<path d="M300,393 Q300,389.5 308,389.5 Q316.5,389.5 316.5,393 L316.5,414 Q316.5,417.5 308,417.5 Q300,417.5 300,414 Z" fill="#d9dde0" stroke="#5a6066" stroke-width="0.8"/>
<ellipse cx="308.2" cy="392.6" rx="8" ry="2.6" fill="#f2f4f5" stroke="#5a6066" stroke-width="0.6"/>
<rect x="303" y="400" width="10.5" height="9" rx="1" fill="#4a5056"/>
<rect x="305" y="409" width="6.5" height="5.5" fill="#8a9096"/>
<ellipse cx="191.5" cy="428.5" rx="16.8" ry="2.7" fill="#cdbfb4" opacity="0.75"/>
<ellipse cx="191.5" cy="425.3" rx="4.8" ry="2.3" fill="#5a3626" stroke="#4a2c1c" stroke-width="0.5"/>
<path d="M188.0,392.6 L192.1,410.3 L193.8,423.0" fill="none" stroke="#4a2c1c" stroke-width="8.2" stroke-linecap="butt" stroke-linejoin="round"/>
<path d="M188.0,392.6 L192.1,410.3 L193.8,423.0" fill="none" stroke="#566a7c" stroke-width="6.8" stroke-linecap="butt" stroke-linejoin="round"/>
<ellipse cx="187.1" cy="426.5" rx="4.8" ry="2.3" fill="#5a3626" stroke="#4a2c1c" stroke-width="0.5"/>
<path d="M195.0,392.6 L190.2,409.5 L189.4,424.1" fill="none" stroke="#4a2c1c" stroke-width="8.2" stroke-linecap="butt" stroke-linejoin="round"/>
<path d="M195.0,392.6 L190.2,409.5 L189.4,424.1" fill="none" stroke="#566a7c" stroke-width="6.8" stroke-linecap="butt" stroke-linejoin="round"/>
<path d="M183.3,369.2 L182.5,388.0 L182.6,395.7" fill="none" stroke="#4a2c1c" stroke-width="6.3" stroke-linecap="round" stroke-linejoin="round"/>
<path d="M183.3,369.2 L182.5,388.0 L182.6,395.7" fill="none" stroke="#3a8cba" stroke-width="4.9" stroke-linecap="round" stroke-linejoin="round"/>
<path d="M182.4,369.9 Q182.4,365.2 186.5,364.1 L196.5,364.1 Q200.6,365.2 200.6,369.9 L199.6,394.9 L183.4,394.9 Z" fill="#3a8cba" stroke="#4a2c1c" stroke-width="0.7" stroke-linejoin="round"/>
<path d="M199.7,369.2 L200.5,388.0 L200.1,395.7" fill="none" stroke="#4a2c1c" stroke-width="6.3" stroke-linecap="round" stroke-linejoin="round"/>
<path d="M199.7,369.2 L200.5,388.0 L200.1,395.7" fill="none" stroke="#3a8cba" stroke-width="4.9" stroke-linecap="round" stroke-linejoin="round"/>
<circle cx="200.1" cy="397.6" r="2.5" fill="#f2bb92" stroke="#4a2c1c" stroke-width="0.4"/>
<circle cx="182.6" cy="397.6" r="2.5" fill="#f2bb92" stroke="#4a2c1c" stroke-width="0.4"/>
<rect x="189.1" y="362.6" width="4.8" height="5.0" fill="#f2bb92"/>
<circle cx="191.5" cy="358.6" r="6.6" fill="#f2bb92" stroke="#4a2c1c" stroke-width="0.7"/>
<path d="M184.5,358.3 Q182.9,350.0 190.8,350.0 Q199.8,349.7 198.5,358.3 Q196.8,355.0 192.8,355.3 Q187.5,355.6 184.5,358.3 Z" fill="#6a4024" stroke="#4a2c1c" stroke-width="0.5"/>
<circle cx="188.3" cy="359.1" r="0.60" fill="#4a2c1c"/><circle cx="193.1" cy="359.1" r="0.60" fill="#4a2c1c"/>
<path d="M189.0,361.9 Q190.7,363.1 192.4,361.9" fill="none" stroke="#4a2c1c" stroke-width="0.53" stroke-linecap="round"/>
<ellipse cx="203.0" cy="437.0" rx="17.0" ry="2.7" fill="#cdbfb4" opacity="0.75"/>
<ellipse cx="203.0" cy="433.8" rx="4.8" ry="2.3" fill="#5a3626" stroke="#4a2c1c" stroke-width="0.5"/>
<path d="M199.5,400.6 L203.6,418.6 L205.3,431.4" fill="none" stroke="#4a2c1c" stroke-width="8.3" stroke-linecap="butt" stroke-linejoin="round"/>
<path d="M199.5,400.6 L203.6,418.6 L205.3,431.4" fill="none" stroke="#46688a" stroke-width="6.9" stroke-linecap="butt" stroke-linejoin="round"/>
<ellipse cx="198.6" cy="434.9" rx="4.8" ry="2.3" fill="#5a3626" stroke="#4a2c1c" stroke-width="0.5"/>
<path d="M206.5,400.6 L201.7,417.8 L200.9,432.6" fill="none" stroke="#4a2c1c" stroke-width="8.3" stroke-linecap="butt" stroke-linejoin="round"/>
<path d="M206.5,400.6 L201.7,417.8 L200.9,432.6" fill="none" stroke="#46688a" stroke-width="6.9" stroke-linecap="butt" stroke-linejoin="round"/>
<path d="M194.7,377.0 L193.9,395.9 L194.0,403.7" fill="none" stroke="#4a2c1c" stroke-width="6.4" stroke-linecap="round" stroke-linejoin="round"/>
<path d="M194.7,377.0 L193.9,395.9 L194.0,403.7" fill="none" stroke="#da562c" stroke-width="5.0" stroke-linecap="round" stroke-linejoin="round"/>
<path d="M193.8,377.6 Q193.8,372.9 197.9,371.8 L208.1,371.8 Q212.2,372.9 212.2,377.6 L211.2,403.0 L194.8,403.0 Z" fill="#da562c" stroke="#4a2c1c" stroke-width="0.7" stroke-linejoin="round"/>
<path d="M211.3,377.0 L212.1,395.9 L211.7,403.7" fill="none" stroke="#4a2c1c" stroke-width="6.4" stroke-linecap="round" stroke-linejoin="round"/>
<path d="M211.3,377.0 L212.1,395.9 L211.7,403.7" fill="none" stroke="#da562c" stroke-width="5.0" stroke-linecap="round" stroke-linejoin="round"/>
<circle cx="211.7" cy="405.7" r="2.5" fill="#f2bb92" stroke="#4a2c1c" stroke-width="0.4"/>
<circle cx="194.0" cy="405.7" r="2.5" fill="#f2bb92" stroke="#4a2c1c" stroke-width="0.4"/>
<rect x="200.6" y="370.2" width="4.8" height="5.0" fill="#f2bb92"/>
<circle cx="203.0" cy="366.2" r="6.7" fill="#f2bb92" stroke="#4a2c1c" stroke-width="0.7"/>
<path d="M196.0,365.9 Q194.3,357.5 202.3,357.5 Q211.4,357.2 210.0,365.9 Q208.4,362.5 204.3,362.9 Q199.0,363.2 196.0,365.9 Z" fill="#4a2c1c" stroke="#4a2c1c" stroke-width="0.5"/>
<circle cx="199.8" cy="366.8" r="0.60" fill="#4a2c1c"/><circle cx="204.6" cy="366.8" r="0.60" fill="#4a2c1c"/>
<path d="M200.5,369.6 Q202.2,370.8 203.9,369.6" fill="none" stroke="#4a2c1c" stroke-width="0.54" stroke-linecap="round"/>
<ellipse cx="215.5" cy="448.5" rx="18.1" ry="2.9" fill="#cdbfb4" opacity="0.75"/>
<ellipse cx="215.5" cy="445.1" rx="5.1" ry="2.5" fill="#5a3626" stroke="#4a2c1c" stroke-width="0.5"/>
<path d="M211.8,409.8 L216.1,428.9 L218.0,442.6" fill="none" stroke="#4a2c1c" stroke-width="8.7" stroke-linecap="butt" stroke-linejoin="round"/>
<path d="M211.8,409.8 L216.1,428.9 L218.0,442.6" fill="none" stroke="#46688a" stroke-width="7.3" stroke-linecap="butt" stroke-linejoin="round"/>
<ellipse cx="210.8" cy="446.3" rx="5.1" ry="2.5" fill="#5a3626" stroke="#4a2c1c" stroke-width="0.5"/>
<path d="M219.2,409.8 L214.1,428.1 L213.3,443.8" fill="none" stroke="#4a2c1c" stroke-width="8.7" stroke-linecap="butt" stroke-linejoin="round"/>
<path d="M219.2,409.8 L214.1,428.1 L213.3,443.8" fill="none" stroke="#46688a" stroke-width="7.3" stroke-linecap="butt" stroke-linejoin="round"/>
<path d="M206.7,384.7 L205.8,404.8 L206.0,413.1" fill="none" stroke="#4a2c1c" stroke-width="6.7" stroke-linecap="round" stroke-linejoin="round"/>
<path d="M206.7,384.7 L205.8,404.8 L206.0,413.1" fill="none" stroke="#3b92c2" stroke-width="5.3" stroke-linecap="round" stroke-linejoin="round"/>
<path d="M205.7,385.3 Q205.7,380.4 210.1,379.1 L220.9,379.1 Q225.3,380.4 225.3,385.3 L224.2,412.3 L206.8,412.3 Z" fill="#3b92c2" stroke="#4a2c1c" stroke-width="0.7" stroke-linejoin="round"/>
<path d="M224.3,384.7 L225.2,404.8 L224.8,413.1" fill="none" stroke="#4a2c1c" stroke-width="6.7" stroke-linecap="round" stroke-linejoin="round"/>
<path d="M224.3,384.7 L225.2,404.8 L224.8,413.1" fill="none" stroke="#3b92c2" stroke-width="5.3" stroke-linecap="round" stroke-linejoin="round"/>
<circle cx="224.8" cy="415.2" r="2.7" fill="#c98a5c" stroke="#4a2c1c" stroke-width="0.4"/>
<circle cx="206.0" cy="415.2" r="2.7" fill="#c98a5c" stroke="#4a2c1c" stroke-width="0.4"/>
<rect x="212.9" y="377.5" width="5.1" height="5.4" fill="#c98a5c"/>
<circle cx="215.5" cy="373.2" r="7.1" fill="#c98a5c" stroke="#4a2c1c" stroke-width="0.7"/>
<path d="M208.0,372.9 Q206.2,363.9 214.8,363.9 Q224.4,363.6 223.0,372.9 Q221.2,369.3 216.9,369.6 Q211.2,370.0 208.0,372.9 Z" fill="#3a2418" stroke="#4a2c1c" stroke-width="0.5"/>
<circle cx="212.1" cy="373.8" r="0.64" fill="#4a2c1c"/><circle cx="217.2" cy="373.8" r="0.64" fill="#4a2c1c"/>
<path d="M212.9,376.8 Q214.6,378.1 216.4,376.8" fill="none" stroke="#4a2c1c" stroke-width="0.57" stroke-linecap="round"/>
<ellipse cx="231.0" cy="456.0" rx="18.3" ry="2.9" fill="#cdbfb4" opacity="0.75"/>
<ellipse cx="231.0" cy="452.6" rx="5.2" ry="2.5" fill="#5a3626" stroke="#4a2c1c" stroke-width="0.5"/>
<path d="M227.2,416.9 L230.4,436.2 L228.5,450.0" fill="none" stroke="#4a2c1c" stroke-width="8.8" stroke-linecap="butt" stroke-linejoin="round"/>
<path d="M227.2,416.9 L230.4,436.2 L228.5,450.0" fill="none" stroke="#3d74a0" stroke-width="7.4" stroke-linecap="butt" stroke-linejoin="round"/>
<ellipse cx="235.8" cy="453.8" rx="5.2" ry="2.5" fill="#5a3626" stroke="#4a2c1c" stroke-width="0.5"/>
<path d="M234.8,416.9 L232.4,435.3 L233.3,451.3" fill="none" stroke="#4a2c1c" stroke-width="8.8" stroke-linecap="butt" stroke-linejoin="round"/>
<path d="M234.8,416.9 L232.4,435.3 L233.3,451.3" fill="none" stroke="#3d74a0" stroke-width="7.4" stroke-linecap="butt" stroke-linejoin="round"/>
<path d="M221.1,392.1 Q221.1,387.0 225.5,385.8 L236.5,385.8 Q240.9,387.0 240.9,392.1 L239.8,419.4 L222.2,419.4 Z" fill="#f2922c" stroke="#4a2c1c" stroke-width="0.7" stroke-linejoin="round"/>
<path d="M222.1,391.4 L220.6,408.5 L230.0,405.9" fill="none" stroke="#4a2c1c" stroke-width="6.8" stroke-linecap="round" stroke-linejoin="round"/>
<path d="M222.1,391.4 L220.6,408.5 L230.0,405.9" fill="none" stroke="#f2922c" stroke-width="5.4" stroke-linecap="round" stroke-linejoin="round"/>
<path d="M239.9,391.4 L241.4,408.5 L232.0,404.3" fill="none" stroke="#4a2c1c" stroke-width="6.8" stroke-linecap="round" stroke-linejoin="round"/>
<path d="M239.9,391.4 L241.4,408.5 L232.0,404.3" fill="none" stroke="#f2922c" stroke-width="5.4" stroke-linecap="round" stroke-linejoin="round"/>
<circle cx="231.0" cy="404.3" r="3.0" fill="#f2bb92" stroke="#4a2c1c" stroke-width="0.4"/>
<rect x="228.4" y="384.1" width="5.2" height="5.4" fill="#f2bb92"/>
<circle cx="231.0" cy="379.8" r="7.2" fill="#f2bb92" stroke="#4a2c1c" stroke-width="0.7"/>
<path d="M223.4,379.4 Q221.6,370.4 230.3,370.4 Q240.0,370.1 238.6,379.4 Q236.8,375.8 232.4,376.2 Q226.7,376.6 223.4,379.4 Z" fill="#6a4024" stroke="#4a2c1c" stroke-width="0.5"/>
<circle cx="229.3" cy="380.4" r="0.65" fill="#4a2c1c"/><circle cx="234.5" cy="380.4" r="0.65" fill="#4a2c1c"/>
<path d="M230.1,383.4 Q231.9,384.7 233.7,383.4" fill="none" stroke="#4a2c1c" stroke-width="0.58" stroke-linecap="round"/>
<ellipse cx="249.5" cy="463.5" rx="18.1" ry="2.9" fill="#cdbfb4" opacity="0.75"/>
<ellipse cx="249.5" cy="460.1" rx="5.1" ry="2.5" fill="#5a3626" stroke="#4a2c1c" stroke-width="0.5"/>
<path d="M245.8,424.8 L248.9,443.9 L247.0,457.6" fill="none" stroke="#4a2c1c" stroke-width="8.7" stroke-linecap="butt" stroke-linejoin="round"/>
<path d="M245.8,424.8 L248.9,443.9 L247.0,457.6" fill="none" stroke="#4a5664" stroke-width="7.3" stroke-linecap="butt" stroke-linejoin="round"/>
<ellipse cx="254.2" cy="461.3" rx="5.1" ry="2.5" fill="#5a3626" stroke="#4a2c1c" stroke-width="0.5"/>
<path d="M253.2,424.8 L250.9,443.1 L251.7,458.8" fill="none" stroke="#4a2c1c" stroke-width="8.7" stroke-linecap="butt" stroke-linejoin="round"/>
<path d="M253.2,424.8 L250.9,443.1 L251.7,458.8" fill="none" stroke="#4a5664" stroke-width="7.3" stroke-linecap="butt" stroke-linejoin="round"/>
<path d="M239.7,400.3 Q239.7,395.4 244.1,394.1 L254.9,394.1 Q259.3,395.4 259.3,400.3 L258.2,427.3 L240.8,427.3 Z" fill="#3c9c4c" stroke="#4a2c1c" stroke-width="0.7" stroke-linejoin="round"/>
<path d="M240.7,399.7 L239.2,416.5 L248.5,414.0" fill="none" stroke="#4a2c1c" stroke-width="6.7" stroke-linecap="round" stroke-linejoin="round"/>
<path d="M240.7,399.7 L239.2,416.5 L248.5,414.0" fill="none" stroke="#3c9c4c" stroke-width="5.3" stroke-linecap="round" stroke-linejoin="round"/>
<path d="M258.3,399.7 L259.8,416.5 L250.5,412.4" fill="none" stroke="#4a2c1c" stroke-width="6.7" stroke-linecap="round" stroke-linejoin="round"/>
<path d="M258.3,399.7 L259.8,416.5 L250.5,412.4" fill="none" stroke="#3c9c4c" stroke-width="5.3" stroke-linecap="round" stroke-linejoin="round"/>
<circle cx="249.5" cy="412.4" r="2.9" fill="#f2bb92" stroke="#4a2c1c" stroke-width="0.4"/>
<rect x="246.9" y="392.5" width="5.1" height="5.4" fill="#f2bb92"/>
<circle cx="249.5" cy="388.2" r="7.1" fill="#f2bb92" stroke="#4a2c1c" stroke-width="0.7"/>
<path d="M242.0,387.9 Q240.2,378.9 248.8,378.9 Q258.4,378.6 257.0,387.9 Q255.2,384.3 250.9,384.6 Q245.2,385.0 242.0,387.9 Z" fill="#c8843a" stroke="#4a2c1c" stroke-width="0.5"/>
<circle cx="247.8" cy="388.8" r="0.64" fill="#4a2c1c"/><circle cx="252.9" cy="388.8" r="0.64" fill="#4a2c1c"/>
<path d="M248.6,391.8 Q250.4,393.1 252.1,391.8" fill="none" stroke="#4a2c1c" stroke-width="0.57" stroke-linecap="round"/>
<ellipse cx="270.0" cy="470.5" rx="18.6" ry="2.9" fill="#cdbfb4" opacity="0.75"/>
<ellipse cx="269.2" cy="467.1" rx="5.1" ry="2.5" fill="#d89a6a" stroke="#4a2c1c" stroke-width="0.5"/>
<path d="M266.3,431.8 L269.2,450.9 L266.7,464.6" fill="none" stroke="#4a2c1c" stroke-width="8.7" stroke-linecap="butt" stroke-linejoin="round"/>
<path d="M266.3,431.8 L269.2,450.9 L266.7,464.6" fill="none" stroke="#3d74a0" stroke-width="7.3" stroke-linecap="butt" stroke-linejoin="round"/>
<ellipse cx="275.5" cy="468.3" rx="5.1" ry="2.5" fill="#d89a6a" stroke="#4a2c1c" stroke-width="0.5"/>
<path d="M273.7,431.8 L271.8,450.1 L273.0,465.8" fill="none" stroke="#4a2c1c" stroke-width="8.7" stroke-linecap="butt" stroke-linejoin="round"/>
<path d="M273.7,431.8 L271.8,450.1 L273.0,465.8" fill="none" stroke="#3d74a0" stroke-width="7.3" stroke-linecap="butt" stroke-linejoin="round"/>
<path d="M262.0,393.8 Q257.9,405.2 260.7,413.1 L279.3,413.1 Q282.1,405.2 278.0,393.8 Z" fill="#8a5230" stroke="#4a2c1c" stroke-width="0.6"/>
<path d="M260.2,407.3 Q260.2,402.4 264.6,401.1 L275.4,401.1 Q279.8,402.4 279.8,407.3 L278.7,434.3 L261.3,434.3 Z" fill="#bc622c" stroke="#4a2c1c" stroke-width="0.7" stroke-linejoin="round"/>
<path d="M266.3,401.5 L273.7,401.5 L273.7,433.5 L266.3,433.5 Z" fill="#fbf4e8"/>
<path d="M261.2,406.7 L259.7,423.5 L269.0,421.0" fill="none" stroke="#4a2c1c" stroke-width="6.7" stroke-linecap="round" stroke-linejoin="round"/>
<path d="M261.2,406.7 L259.7,423.5 L269.0,421.0" fill="none" stroke="#bc622c" stroke-width="5.3" stroke-linecap="round" stroke-linejoin="round"/>
<path d="M278.8,406.7 L280.3,423.5 L271.0,419.4" fill="none" stroke="#4a2c1c" stroke-width="6.7" stroke-linecap="round" stroke-linejoin="round"/>
<path d="M278.8,406.7 L280.3,423.5 L271.0,419.4" fill="none" stroke="#bc622c" stroke-width="5.3" stroke-linecap="round" stroke-linejoin="round"/>
<circle cx="270.0" cy="419.4" r="2.9" fill="#f2bb92" stroke="#4a2c1c" stroke-width="0.4"/>
<rect x="267.4" y="399.5" width="5.1" height="5.4" fill="#f2bb92"/>
<circle cx="270.0" cy="395.2" r="7.1" fill="#f2bb92" stroke="#4a2c1c" stroke-width="0.7"/>
<path d="M262.1,399.1 Q260.7,385.9 270.0,386.5 Q279.3,385.9 277.9,399.1 Q277.1,391.6 271.1,389.5 Q263.2,392.0 262.1,399.1 Z" fill="#8a5230" stroke="#4a2c1c" stroke-width="0.5"/>
<path d="M262.3,394.5 Q258.9,403.8 262.1,409.1 Q265.0,404.5 263.4,397.7 Z" fill="#8a5230" stroke="#4a2c1c" stroke-width="0.4"/>
<path d="M277.7,394.5 Q281.1,403.8 277.9,409.1 Q275.0,404.5 276.6,397.7 Z" fill="#8a5230" stroke="#4a2c1c" stroke-width="0.4"/>
<circle cx="268.3" cy="395.8" r="0.64" fill="#4a2c1c"/><circle cx="273.4" cy="395.8" r="0.64" fill="#4a2c1c"/>
<path d="M269.1,398.8 Q270.9,400.1 272.6,398.8" fill="none" stroke="#4a2c1c" stroke-width="0.57" stroke-linecap="round"/>
<ellipse cx="291.0" cy="477.5" rx="19.9" ry="3.1" fill="#cdbfb4" opacity="0.75"/>
<ellipse cx="290.1" cy="473.9" rx="5.5" ry="2.7" fill="#5a3626" stroke="#4a2c1c" stroke-width="0.5"/>
<path d="M287.0,436.1 L290.1,456.5 L287.4,471.2" fill="none" stroke="#4a2c1c" stroke-width="9.2" stroke-linecap="butt" stroke-linejoin="round"/>
<path d="M287.0,436.1 L290.1,456.5 L287.4,471.2" fill="none" stroke="#3d74a0" stroke-width="7.8" stroke-linecap="butt" stroke-linejoin="round"/>
<ellipse cx="296.9" cy="475.2" rx="5.5" ry="2.7" fill="#5a3626" stroke="#4a2c1c" stroke-width="0.5"/>
<path d="M295.0,436.1 L293.0,455.6 L294.2,472.6" fill="none" stroke="#4a2c1c" stroke-width="9.2" stroke-linecap="butt" stroke-linejoin="round"/>
<path d="M295.0,436.1 L293.0,455.6 L294.2,472.6" fill="none" stroke="#3d74a0" stroke-width="7.8" stroke-linecap="butt" stroke-linejoin="round"/>
<path d="M281.5,409.1 L279.1,430.7 L280.1,439.6" fill="none" stroke="#4a2c1c" stroke-width="7.1" stroke-linecap="round" stroke-linejoin="round"/>
<path d="M281.5,409.1 L279.1,430.7 L280.1,439.6" fill="none" stroke="#6c7680" stroke-width="5.7" stroke-linecap="round" stroke-linejoin="round"/>
<path d="M280.5,409.8 Q280.5,404.5 285.2,403.1 L296.8,403.1 Q301.5,404.5 301.5,409.8 L300.3,438.7 L281.7,438.7 Z" fill="#6c7680" stroke="#4a2c1c" stroke-width="0.7" stroke-linejoin="round"/>
<path d="M300.5,409.1 L302.9,430.7 L302.2,439.6" fill="none" stroke="#4a2c1c" stroke-width="7.1" stroke-linecap="round" stroke-linejoin="round"/>
<path d="M300.5,409.1 L302.9,430.7 L302.2,439.6" fill="none" stroke="#6c7680" stroke-width="5.7" stroke-linecap="round" stroke-linejoin="round"/>
<circle cx="302.2" cy="441.8" r="2.8" fill="#f2bb92" stroke="#4a2c1c" stroke-width="0.4"/>
<circle cx="280.1" cy="441.8" r="2.8" fill="#f2bb92" stroke="#4a2c1c" stroke-width="0.4"/>
<rect x="288.2" y="401.4" width="5.5" height="5.7" fill="#f2bb92"/>
<circle cx="291.0" cy="396.8" r="7.7" fill="#5a3420" stroke="#4a2c1c" stroke-width="0.7"/>
<path d="M284.9,401.0 Q291.0,407.1 297.1,401.0 Z" fill="#f2bb92"/>
<path d="M298.0,407.0 L308.0,408.0 L311.0,402.0" fill="none" stroke="#4a2c1c" stroke-width="6.9" stroke-linecap="round" stroke-linejoin="round"/>
<path d="M298.0,407.0 L308.0,408.0 L311.0,402.0" fill="none" stroke="#6c7680" stroke-width="5.5" stroke-linecap="round" stroke-linejoin="round"/>
<circle cx="311.5" cy="400.5" r="2.6" fill="#f2bb92" stroke="#4a2c1c" stroke-width="0.5"/>
<ellipse cx="72.0" cy="476.5" rx="31.8" ry="3.9" fill="#cdbfb4" opacity="0.75"/>
<ellipse cx="84.3" cy="472.1" rx="6.9" ry="3.4" fill="#5a3626" stroke="#4a2c1c" stroke-width="0.6"/>
<path d="M67.0,424.5 L75.9,450.2 L87.7,468.7" fill="none" stroke="#4a2c1c" stroke-width="11.7" stroke-linecap="butt" stroke-linejoin="round"/>
<path d="M67.0,424.5 L75.9,450.2 L87.7,468.7" fill="none" stroke="#33709a" stroke-width="9.9" stroke-linecap="butt" stroke-linejoin="round"/>
<ellipse cx="54.5" cy="473.8" rx="6.9" ry="3.4" fill="#5a3626" stroke="#4a2c1c" stroke-width="0.6"/>
<path d="M77.0,424.5 L63.4,449.1 L57.9,470.4" fill="none" stroke="#4a2c1c" stroke-width="11.7" stroke-linecap="butt" stroke-linejoin="round"/>
<path d="M77.0,424.5 L63.4,449.1 L57.9,470.4" fill="none" stroke="#33709a" stroke-width="9.9" stroke-linecap="butt" stroke-linejoin="round"/>
<path d="M58.8,391.4 Q58.8,384.7 64.7,383.0 L79.3,383.0 Q85.2,384.7 85.2,391.4 L83.8,427.8 L60.2,427.8 Z" fill="#3ca452" stroke="#4a2c1c" stroke-width="0.9" stroke-linejoin="round"/>
<path d="M83.9,390.5 L86.5,417.8 L85.2,429.0" fill="none" stroke="#4a2c1c" stroke-width="9.0" stroke-linecap="round" stroke-linejoin="round"/>
<path d="M83.9,390.5 L86.5,417.8 L85.2,429.0" fill="none" stroke="#3ca452" stroke-width="7.2" stroke-linecap="round" stroke-linejoin="round"/>
<path d="M60.1,390.5 L52.2,403.8 L59.4,383.2" fill="none" stroke="#4a2c1c" stroke-width="9.0" stroke-linecap="round" stroke-linejoin="round"/>
<path d="M60.1,390.5 L52.2,403.8 L59.4,383.2" fill="none" stroke="#3ca452" stroke-width="7.2" stroke-linecap="round" stroke-linejoin="round"/>
<circle cx="60.1" cy="381.6" r="3.9" fill="#f2bb92" stroke="#4a2c1c" stroke-width="0.5"/>
<rect x="68.0" y="383.2" width="7.9" height="8.2" fill="#f2bb92"/>
<circle cx="72.0" cy="376.6" r="11.0" fill="#f2bb92" stroke="#4a2c1c" stroke-width="0.9"/>
<path d="M60.5,376.1 Q57.7,362.4 70.9,362.4 Q85.7,361.8 83.5,376.1 Q80.8,370.6 74.2,371.1 Q65.4,371.7 60.5,376.1 Z" fill="#96643a" stroke="#4a2c1c" stroke-width="0.6"/>
<circle cx="66.7" cy="377.5" r="0.99" fill="#4a2c1c"/><circle cx="74.6" cy="377.5" r="0.99" fill="#4a2c1c"/>
<path d="M67.9,382.1 Q70.7,384.1 73.4,382.1" fill="none" stroke="#4a2c1c" stroke-width="0.88" stroke-linecap="round"/>
<ellipse cx="125.0" cy="479.0" rx="26.8" ry="3.6" fill="#cdbfb4" opacity="0.75"/>
<ellipse cx="132.2" cy="474.9" rx="6.4" ry="3.1" fill="#e2845e" stroke="#4a2c1c" stroke-width="0.6"/>
<path d="M120.4,431.1 L127.6,454.8 L135.3,471.8" fill="none" stroke="#4a2c1c" stroke-width="10.9" stroke-linecap="butt" stroke-linejoin="round"/>
<path d="M120.4,431.1 L127.6,454.8 L135.3,471.8" fill="none" stroke="#3d74a0" stroke-width="9.1" stroke-linecap="butt" stroke-linejoin="round"/>
<ellipse cx="112.6" cy="476.4" rx="6.4" ry="3.1" fill="#e2845e" stroke="#4a2c1c" stroke-width="0.6"/>
<path d="M129.6,431.1 L119.3,453.8 L115.7,473.4" fill="none" stroke="#4a2c1c" stroke-width="10.9" stroke-linecap="butt" stroke-linejoin="round"/>
<path d="M129.6,431.1 L119.3,453.8 L115.7,473.4" fill="none" stroke="#3d74a0" stroke-width="9.1" stroke-linecap="butt" stroke-linejoin="round"/>
<path d="M114.1,399.9 L114.8,424.9 L113.9,435.2" fill="none" stroke="#4a2c1c" stroke-width="8.4" stroke-linecap="round" stroke-linejoin="round"/>
<path d="M114.1,399.9 L114.8,424.9 L113.9,435.2" fill="none" stroke="#e2845e" stroke-width="6.6" stroke-linecap="round" stroke-linejoin="round"/>
<path d="M113.9,384.9 Q108.1,400.8 112.1,411.7 L137.9,411.7 Q141.9,400.8 136.1,384.9 Z" fill="#8a5230" stroke="#4a2c1c" stroke-width="0.7"/>
<path d="M112.8,400.7 Q112.8,394.6 118.3,393.0 L131.7,393.0 Q137.2,394.6 137.2,400.7 L135.8,434.2 L114.2,434.2 Z" fill="#e2845e" stroke="#4a2c1c" stroke-width="0.9" stroke-linejoin="round"/>
<path d="M120.4,393.5 L129.6,393.5 L129.5,433.2 L120.5,433.2 Z" fill="#fbf4e8"/>
<path d="M135.9,399.9 L135.2,424.9 L135.1,435.2" fill="none" stroke="#4a2c1c" stroke-width="8.4" stroke-linecap="round" stroke-linejoin="round"/>
<path d="M135.9,399.9 L135.2,424.9 L135.1,435.2" fill="none" stroke="#e2845e" stroke-width="6.6" stroke-linecap="round" stroke-linejoin="round"/>
<circle cx="135.1" cy="437.8" r="3.3" fill="#f2bb92" stroke="#4a2c1c" stroke-width="0.5"/>
<circle cx="113.9" cy="437.8" r="3.3" fill="#f2bb92" stroke="#4a2c1c" stroke-width="0.5"/>
<rect x="121.4" y="392.9" width="7.1" height="7.4" fill="#f2bb92"/>
<circle cx="125.0" cy="386.9" r="9.9" fill="#f2bb92" stroke="#4a2c1c" stroke-width="0.9"/>
<path d="M114.1,392.4 Q112.1,374.0 125.0,374.8 Q137.9,374.0 135.9,392.4 Q134.9,381.9 126.5,379.0 Q115.6,382.4 114.1,392.4 Z" fill="#8a5230" stroke="#4a2c1c" stroke-width="0.6"/>
<path d="M114.3,385.9 Q109.6,398.8 114.1,406.3 Q118.1,399.8 115.9,390.4 Z" fill="#8a5230" stroke="#4a2c1c" stroke-width="0.5"/>
<path d="M135.7,385.9 Q140.4,398.8 135.9,406.3 Q131.9,399.8 134.1,390.4 Z" fill="#8a5230" stroke="#4a2c1c" stroke-width="0.5"/>
<circle cx="120.2" cy="387.7" r="0.89" fill="#4a2c1c"/><circle cx="127.4" cy="387.7" r="0.89" fill="#4a2c1c"/>
<path d="M121.3,391.9 Q123.8,393.7 126.3,391.9" fill="none" stroke="#4a2c1c" stroke-width="0.79" stroke-linecap="round"/>
<path d="M126,400 L131,414" stroke="#7a3f1c" stroke-width="1.3"/>
<path d="M125,414 Q133,409 142,414 L143,427 Q134,434 125,428 Z" fill="#c27a32" stroke="#7a3f1c" stroke-width="0.9"/>
<path d="M81,389.5 L126.5,434 M126.5,389.5 L81.5,434" stroke="#e53a30" stroke-width="5.4" stroke-linecap="butt" opacity="0.9"/>
<path d="M132.8,361 L146,374.2 M146,361 L132.8,374.2" stroke="#e33a30" stroke-width="3.2"/>
<path d="M181.500,417.500 Q168,426 155,421.500" fill="none" stroke="#c8766a" stroke-width="2.700" stroke-linecap="round"/>
<path d="M158.500,414.500 L148,420.500 L157.500,428.500 Z" fill="#c66e60"/>
</g>
<rect x="39.5" y="31.5" width="279.5" height="52.5" rx="21" fill="url(#gOr)"/>
<rect x="44" y="33" width="270" height="18" rx="14" fill="#ffb45a" opacity="0.10"/>
<g filter="url(#ts)">
<text x="133.3" y="55.6" font-size="16.2" font-weight="bold" fill="#fff6e6" text-anchor="start" textLength="86.7" lengthAdjust="spacingAndGlyphs">PROBLEM:</text>
<text x="92.3" y="74.0" font-size="16.2" font-weight="bold" fill="#fff6e6" text-anchor="start" textLength="173.7" lengthAdjust="spacingAndGlyphs">CUSTOMER BALKING</text>
</g>
<g transform="translate(45.0,271.5) scale(1.062)"><path d="M0.6,-1.5 Q0.3,-2.9 2,-2.9 L4.4,-2.9 L8.6,-5.3 Q9.9,-5.7 10.3,-4.6 L10,-2.9 L15,-2.9 Q16.2,-2.7 16.1,-1.6 Q16,-0.4 15,-0.3 L10.7,-0.3 Q11.1,1 10.2,1.8 Q10.4,3.2 9.4,3.8 Q9.2,5.2 8,5.3 L2.2,5.3 Q0.5,5.2 0.4,3.5 Z" fill="url(#gHand)"/><path d="M7.2,-0.3 L10.7,-0.3 M7,1.8 L10.2,1.8 M7.2,3.8 L9.4,3.8 M5.2,-2.9 L9.9,-2.9" stroke="#e39a1c" stroke-width="0.55" fill="none" stroke-linecap="round"/></g>
<text x="66.7" y="276.3" font-size="14.2" font-weight="bold" fill="#1c1c1c" text-anchor="start" textLength="105.0" lengthAdjust="spacingAndGlyphs">Customers leaving</text>
<text x="66.7" y="290.0" font-size="14.2" font-weight="bold" fill="#1c1c1c" text-anchor="start" textLength="97.3" lengthAdjust="spacingAndGlyphs">without purchase</text>
<g transform="translate(45.0,307.0) scale(1.062)"><path d="M0.6,-1.5 Q0.3,-2.9 2,-2.9 L4.4,-2.9 L8.6,-5.3 Q9.9,-5.7 10.3,-4.6 L10,-2.9 L15,-2.9 Q16.2,-2.7 16.1,-1.6 Q16,-0.4 15,-0.3 L10.7,-0.3 Q11.1,1 10.2,1.8 Q10.4,3.2 9.4,3.8 Q9.2,5.2 8,5.3 L2.2,5.3 Q0.5,5.2 0.4,3.5 Z" fill="url(#gHand)"/><path d="M7.2,-0.3 L10.7,-0.3 M7,1.8 L10.2,1.8 M7.2,3.8 L9.4,3.8 M5.2,-2.9 L9.9,-2.9" stroke="#e39a1c" stroke-width="0.55" fill="none" stroke-linecap="round"/></g>
<text x="66.7" y="311.8" font-size="14.2" font-weight="bold" fill="#1c1c1c" text-anchor="start" textLength="122.6" lengthAdjust="spacingAndGlyphs">Long queues and wait</text>
<text x="66.7" y="325.8" font-size="14.2" font-weight="bold" fill="#1c1c1c" text-anchor="start" textLength="30.6" lengthAdjust="spacingAndGlyphs">times</text>
<text x="256.7" y="165.6" font-size="13.2" font-weight="bold" fill="#1c1c1c" text-anchor="start" textLength="39.3" lengthAdjust="spacingAndGlyphs">leaving</text>
<text x="143.0" y="405.2" font-size="13.2" font-weight="bold" fill="#1c1c1c" text-anchor="start" textLength="38.6" lengthAdjust="spacingAndGlyphs">leaving</text>
<path d="M79.500,499.500 H95.500 L93.500,519.500 Q87.500,521.500 81.500,519.500 Z" fill="#fbf5ea" stroke="#5a3a2a" stroke-width="0.800"/>
<path d="M80.300,505.500 H94.700 L93.800,514.500 H81.200 Z" fill="#c88850" stroke="#5a3a2a" stroke-width="0.600"/>
<circle cx="87.500" cy="510" r="3" fill="#2f8f5a"/>
<path d="M79.500,497.500 Q79.500,493.800 87.500,493.800 Q95.500,493.800 95.500,497.500 Z" fill="#ffffff" stroke="#5a3a2a" stroke-width="0.800"/>
<rect x="78" y="497" width="19" height="3.200" rx="1.300" fill="#f3eee6" stroke="#5a3a2a" stroke-width="0.800"/>
<circle cx="98.300" cy="510" r="6.600" fill="#e2443a" stroke="#8a1f1a" stroke-width="0.700"/>
<path d="M95.300,507 l6,6 M101.300,507 l-6,6" stroke="#ffffff" stroke-width="1.700" stroke-linecap="round"/>
<rect x="174.0" y="498.5" width="3.500" height="21.9" fill="#ee8a34" stroke="#4a2c1c" stroke-width="0.600"/>
<rect x="179.7" y="503.3" width="3.500" height="17.1" fill="#2fa0a0" stroke="#4a2c1c" stroke-width="0.600"/>
<rect x="185.4" y="506.9" width="3.500" height="13.5" fill="#ee8a34" stroke="#4a2c1c" stroke-width="0.600"/>
<rect x="191.1" y="510.4" width="3.500" height="10.0" fill="#2fa0a0" stroke="#4a2c1c" stroke-width="0.600"/>
<rect x="196.8" y="514" width="3.500" height="6.4" fill="#ee8a34" stroke="#4a2c1c" stroke-width="0.600"/>
<path d="M174.500,494.500 q2,-0.500 3,1.500 l3,3.500 l2.500,-1.500 l4,6 l2.500,-1 l5,5.500 l4.500,1" fill="none" stroke="#222" stroke-width="0.800" stroke-linejoin="round"/>
<path d="M197.500,506.800 l3.500,2.800 l-4,1.200 Z" fill="#222"/>
<circle cx="196.500" cy="498.500" r="4.700" fill="#e8553a" stroke="#8a1f1a" stroke-width="0.700"/><circle cx="196.500" cy="498.500" r="2" fill="none" stroke="#f8c0a0" stroke-width="0.700"/>
<rect x="264" y="504" width="28.300" height="16" rx="1.200" fill="#3fae52" stroke="#1f5a2a" stroke-width="0.900"/>
<rect x="266.500" y="506.300" width="23.300" height="11.400" rx="0.800" fill="#5cc86a" stroke="#1f7a3a" stroke-width="0.500"/>
<ellipse cx="278.200" cy="512" rx="3.600" ry="4.300" fill="#2a8a3c"/><circle cx="269.500" cy="512" r="1.400" fill="#2a8a3c"/><circle cx="287" cy="512" r="1.400" fill="#2a8a3c"/>
<circle cx="277.700" cy="500.600" r="6.700" fill="#f7b630" stroke="#7a4a14" stroke-width="0.900"/>
<text x="277.700" y="504.300" font-size="10" font-weight="bold" fill="#5a3414" text-anchor="middle">$</text>
<g transform="translate(50.0,529.5) scale(0.781)"><path d="M0.6,-1.5 Q0.3,-2.9 2,-2.9 L4.4,-2.9 L8.6,-5.3 Q9.9,-5.7 10.3,-4.6 L10,-2.9 L15,-2.9 Q16.2,-2.7 16.1,-1.6 Q16,-0.4 15,-0.3 L10.7,-0.3 Q11.1,1 10.2,1.8 Q10.4,3.2 9.4,3.8 Q9.2,5.2 8,5.3 L2.2,5.3 Q0.5,5.2 0.4,3.5 Z" fill="url(#gHand)"/><path d="M7.2,-0.3 L10.7,-0.3 M7,1.8 L10.2,1.8 M7.2,3.8 L9.4,3.8 M5.2,-2.9 L9.9,-2.9" stroke="#e39a1c" stroke-width="0.55" fill="none" stroke-linecap="round"/></g>
<text x="65.7" y="534.0" font-size="11.8" font-weight="bold" fill="#1c1c1c" text-anchor="start" textLength="51.6" lengthAdjust="spacingAndGlyphs">Customers</text>
<text x="54.3" y="545.8" font-size="11.8" font-weight="bold" fill="#1c1c1c" text-anchor="start" textLength="74.0" lengthAdjust="spacingAndGlyphs">leaving without</text>
<text x="69.3" y="557.2" font-size="11.8" font-weight="bold" fill="#1c1c1c" text-anchor="start" textLength="44.0" lengthAdjust="spacingAndGlyphs">purchase</text>
<g transform="translate(142.3,529.5) scale(0.781)"><path d="M0.6,-1.5 Q0.3,-2.9 2,-2.9 L4.4,-2.9 L8.6,-5.3 Q9.9,-5.7 10.3,-4.6 L10,-2.9 L15,-2.9 Q16.2,-2.7 16.1,-1.6 Q16,-0.4 15,-0.3 L10.7,-0.3 Q11.1,1 10.2,1.8 Q10.4,3.2 9.4,3.8 Q9.2,5.2 8,5.3 L2.2,5.3 Q0.5,5.2 0.4,3.5 Z" fill="url(#gHand)"/><path d="M7.2,-0.3 L10.7,-0.3 M7,1.8 L10.2,1.8 M7.2,3.8 L9.4,3.8 M5.2,-2.9 L9.9,-2.9" stroke="#e39a1c" stroke-width="0.55" fill="none" stroke-linecap="round"/></g>
<text x="156.7" y="534.0" font-size="11.8" font-weight="bold" fill="#1c1c1c" text-anchor="start" textLength="61.6" lengthAdjust="spacingAndGlyphs">Long queues</text>
<text x="152.3" y="545.8" font-size="11.8" font-weight="bold" fill="#1c1c1c" text-anchor="start" textLength="69.7" lengthAdjust="spacingAndGlyphs">and wait times</text>
<g transform="translate(233.3,529.5) scale(0.781)"><path d="M0.6,-1.5 Q0.3,-2.9 2,-2.9 L4.4,-2.9 L8.6,-5.3 Q9.9,-5.7 10.3,-4.6 L10,-2.9 L15,-2.9 Q16.2,-2.7 16.1,-1.6 Q16,-0.4 15,-0.3 L10.7,-0.3 Q11.1,1 10.2,1.8 Q10.4,3.2 9.4,3.8 Q9.2,5.2 8,5.3 L2.2,5.3 Q0.5,5.2 0.4,3.5 Z" fill="url(#gHand)"/><path d="M7.2,-0.3 L10.7,-0.3 M7,1.8 L10.2,1.8 M7.2,3.8 L9.4,3.8 M5.2,-2.9 L9.9,-2.9" stroke="#e39a1c" stroke-width="0.55" fill="none" stroke-linecap="round"/></g>
<text x="248.3" y="534.0" font-size="11.8" font-weight="bold" fill="#1c1c1c" text-anchor="start" textLength="61.7" lengthAdjust="spacingAndGlyphs">Lost revenue</text>
<text x="251.3" y="545.8" font-size="11.8" font-weight="bold" fill="#1c1c1c" text-anchor="start" textLength="55.4" lengthAdjust="spacingAndGlyphs">opportunity</text>
</g>
<g id="panel2">
<clipPath id="cp2"><path d="M365.5,52 a20,20 0 0 1 20,-20 h233 a20,20 0 0 1 20,20 V373.5 a14,14 0 0 1 -14,14 H379.5 a14,14 0 0 1 -14,-14 Z"/></clipPath>
<g clip-path="url(#cp2)" id="p2art">
<rect x="365" y="31" width="274" height="358" fill="url(#gAI)"/>
<ellipse cx="502" cy="170" rx="150" ry="120" fill="url(#gAIglow)"/>
<ellipse cx="502" cy="250" rx="130" ry="60" fill="#22708c" opacity="0.5" filter="url(#blur8)"/>
<text x="377.5" y="102.5" font-size="5.6" fill="#e8e2d4" font-weight="normal" textLength="28" lengthAdjust="spacingAndGlyphs">AI analytics</text>
<circle cx="378" cy="107.7" r="0.6" fill="#8ac0c8"/>
<rect x="382.0" y="107.0" width="9" height="1.5" rx="0.7" fill="#f0a04a" opacity="0.9"/>
<rect x="392.6" y="107.0" width="6" height="1.5" rx="0.7" fill="#5fc4c0" opacity="0.9"/>
<rect x="400.2" y="107.0" width="12" height="1.5" rx="0.7" fill="#e8dcb0" opacity="0.9"/>
<rect x="413.8" y="107.0" width="4" height="1.5" rx="0.7" fill="#f0a04a" opacity="0.9"/>
<rect x="419.4" y="107.0" width="4" height="1.5" rx="0.7" fill="#4aa8b8" opacity="0.9"/>
<rect x="425.0" y="107.0" width="7" height="1.5" rx="0.7" fill="#f0a04a" opacity="0.9"/>
<circle cx="378" cy="111.8" r="0.6" fill="#8ac0c8"/>
<rect x="384.5" y="111.1" width="4" height="1.5" rx="0.7" fill="#5fc4c0" opacity="0.9"/>
<rect x="390.1" y="111.1" width="9" height="1.5" rx="0.7" fill="#e8dcb0" opacity="0.9"/>
<rect x="400.7" y="111.1" width="7" height="1.5" rx="0.7" fill="#f0a04a" opacity="0.9"/>
<rect x="409.3" y="111.1" width="4" height="1.5" rx="0.7" fill="#4aa8b8" opacity="0.9"/>
<rect x="414.9" y="111.1" width="7" height="1.5" rx="0.7" fill="#f0a04a" opacity="0.9"/>
<circle cx="378" cy="115.9" r="0.6" fill="#8ac0c8"/>
<rect x="387.0" y="115.2" width="6" height="1.5" rx="0.7" fill="#e8dcb0" opacity="0.9"/>
<rect x="394.6" y="115.2" width="4" height="1.5" rx="0.7" fill="#f0a04a" opacity="0.9"/>
<rect x="400.2" y="115.2" width="4" height="1.5" rx="0.7" fill="#4aa8b8" opacity="0.9"/>
<rect x="405.8" y="115.2" width="12" height="1.5" rx="0.7" fill="#f0a04a" opacity="0.9"/>
<circle cx="378" cy="120.0" r="0.6" fill="#8ac0c8"/>
<rect x="382.0" y="119.3" width="12" height="1.5" rx="0.7" fill="#f0a04a" opacity="0.9"/>
<rect x="395.6" y="119.3" width="4" height="1.5" rx="0.7" fill="#4aa8b8" opacity="0.9"/>
<rect x="401.2" y="119.3" width="6" height="1.5" rx="0.7" fill="#f0a04a" opacity="0.9"/>
<rect x="408.8" y="119.3" width="4" height="1.5" rx="0.7" fill="#5fc4c0" opacity="0.9"/>
<rect x="414.4" y="119.3" width="7" height="1.5" rx="0.7" fill="#e8dcb0" opacity="0.9"/>
<circle cx="378" cy="124.1" r="0.6" fill="#8ac0c8"/>
<rect x="384.5" y="123.4" width="12" height="1.5" rx="0.7" fill="#4aa8b8" opacity="0.9"/>
<rect x="398.1" y="123.4" width="4" height="1.5" rx="0.7" fill="#f0a04a" opacity="0.9"/>
<rect x="403.7" y="123.4" width="7" height="1.5" rx="0.7" fill="#5fc4c0" opacity="0.9"/>
<rect x="412.3" y="123.4" width="4" height="1.5" rx="0.7" fill="#e8dcb0" opacity="0.9"/>
<circle cx="378" cy="128.2" r="0.6" fill="#8ac0c8"/>
<rect x="387.0" y="127.5" width="6" height="1.5" rx="0.7" fill="#f0a04a" opacity="0.9"/>
<rect x="394.6" y="127.5" width="7" height="1.5" rx="0.7" fill="#5fc4c0" opacity="0.9"/>
<rect x="403.2" y="127.5" width="4" height="1.5" rx="0.7" fill="#e8dcb0" opacity="0.9"/>
<rect x="408.8" y="127.5" width="7" height="1.5" rx="0.7" fill="#f0a04a" opacity="0.9"/>
<rect x="417.4" y="127.5" width="7" height="1.5" rx="0.7" fill="#4aa8b8" opacity="0.9"/>
<text x="377.5" y="140.5" font-size="5.6" fill="#e8e2d4" font-weight="normal" textLength="28" lengthAdjust="spacingAndGlyphs">Analytics</text>
<circle cx="378" cy="145.7" r="0.6" fill="#8ac0c8"/>
<rect x="382.0" y="145.0" width="12" height="1.5" rx="0.7" fill="#f0a04a" opacity="0.9"/>
<rect x="395.6" y="145.0" width="4" height="1.5" rx="0.7" fill="#5fc4c0" opacity="0.9"/>
<rect x="401.2" y="145.0" width="6" height="1.5" rx="0.7" fill="#e8dcb0" opacity="0.9"/>
<rect x="408.8" y="145.0" width="4" height="1.5" rx="0.7" fill="#f0a04a" opacity="0.9"/>
<rect x="414.4" y="145.0" width="7" height="1.5" rx="0.7" fill="#4aa8b8" opacity="0.9"/>
<rect x="423.0" y="145.0" width="6" height="1.5" rx="0.7" fill="#f0a04a" opacity="0.9"/>
<circle cx="378" cy="149.79999999999998" r="0.6" fill="#8ac0c8"/>
<rect x="384.5" y="149.1" width="9" height="1.5" rx="0.7" fill="#5fc4c0" opacity="0.9"/>
<rect x="395.1" y="149.1" width="12" height="1.5" rx="0.7" fill="#e8dcb0" opacity="0.9"/>
<rect x="408.7" y="149.1" width="6" height="1.5" rx="0.7" fill="#f0a04a" opacity="0.9"/>
<rect x="416.3" y="149.1" width="7" height="1.5" rx="0.7" fill="#4aa8b8" opacity="0.9"/>
<circle cx="378" cy="153.89999999999998" r="0.6" fill="#8ac0c8"/>
<rect x="387.0" y="153.2" width="4" height="1.5" rx="0.7" fill="#e8dcb0" opacity="0.9"/>
<rect x="392.6" y="153.2" width="7" height="1.5" rx="0.7" fill="#f0a04a" opacity="0.9"/>
<rect x="401.2" y="153.2" width="9" height="1.5" rx="0.7" fill="#4aa8b8" opacity="0.9"/>
<rect x="411.8" y="153.2" width="7" height="1.5" rx="0.7" fill="#f0a04a" opacity="0.9"/>
<circle cx="378" cy="158.0" r="0.6" fill="#8ac0c8"/>
<rect x="382.0" y="157.3" width="6" height="1.5" rx="0.7" fill="#f0a04a" opacity="0.9"/>
<rect x="389.6" y="157.3" width="4" height="1.5" rx="0.7" fill="#4aa8b8" opacity="0.9"/>
<rect x="395.2" y="157.3" width="7" height="1.5" rx="0.7" fill="#f0a04a" opacity="0.9"/>
<rect x="403.8" y="157.3" width="7" height="1.5" rx="0.7" fill="#5fc4c0" opacity="0.9"/>
<rect x="412.4" y="157.3" width="6" height="1.5" rx="0.7" fill="#e8dcb0" opacity="0.9"/>
<rect x="420.0" y="157.3" width="9" height="1.5" rx="0.7" fill="#f0a04a" opacity="0.9"/>
<circle cx="378" cy="162.1" r="0.6" fill="#8ac0c8"/>
<rect x="384.5" y="161.4" width="4" height="1.5" rx="0.7" fill="#4aa8b8" opacity="0.9"/>
<rect x="390.1" y="161.4" width="7" height="1.5" rx="0.7" fill="#f0a04a" opacity="0.9"/>
<rect x="398.7" y="161.4" width="4" height="1.5" rx="0.7" fill="#5fc4c0" opacity="0.9"/>
<rect x="404.3" y="161.4" width="7" height="1.5" rx="0.7" fill="#e8dcb0" opacity="0.9"/>
<rect x="412.9" y="161.4" width="4" height="1.5" rx="0.7" fill="#f0a04a" opacity="0.9"/>
<circle cx="378" cy="166.2" r="0.6" fill="#8ac0c8"/>
<rect x="387.0" y="165.5" width="7" height="1.5" rx="0.7" fill="#f0a04a" opacity="0.9"/>
<rect x="395.6" y="165.5" width="6" height="1.5" rx="0.7" fill="#5fc4c0" opacity="0.9"/>
<rect x="403.2" y="165.5" width="12" height="1.5" rx="0.7" fill="#e8dcb0" opacity="0.9"/>
<rect x="416.8" y="165.5" width="7" height="1.5" rx="0.7" fill="#f0a04a" opacity="0.9"/>
<text x="377.5" y="176.5" font-size="5.6" fill="#e8e2d4" font-weight="normal" textLength="28" lengthAdjust="spacingAndGlyphs">AI analytics</text>
<circle cx="378" cy="181.7" r="0.6" fill="#8ac0c8"/>
<rect x="382.0" y="181.0" width="12" height="1.5" rx="0.7" fill="#f0a04a" opacity="0.9"/>
<rect x="395.6" y="181.0" width="9" height="1.5" rx="0.7" fill="#5fc4c0" opacity="0.9"/>
<rect x="406.2" y="181.0" width="12" height="1.5" rx="0.7" fill="#e8dcb0" opacity="0.9"/>
<rect x="419.8" y="181.0" width="7" height="1.5" rx="0.7" fill="#f0a04a" opacity="0.9"/>
<circle cx="378" cy="185.79999999999998" r="0.6" fill="#8ac0c8"/>
<rect x="384.5" y="185.1" width="12" height="1.5" rx="0.7" fill="#5fc4c0" opacity="0.9"/>
<rect x="398.1" y="185.1" width="9" height="1.5" rx="0.7" fill="#e8dcb0" opacity="0.9"/>
<rect x="408.7" y="185.1" width="9" height="1.5" rx="0.7" fill="#f0a04a" opacity="0.9"/>
<rect x="419.3" y="185.1" width="6" height="1.5" rx="0.7" fill="#4aa8b8" opacity="0.9"/>
<circle cx="378" cy="189.89999999999998" r="0.6" fill="#8ac0c8"/>
<rect x="387.0" y="189.2" width="6" height="1.5" rx="0.7" fill="#e8dcb0" opacity="0.9"/>
<rect x="394.6" y="189.2" width="6" height="1.5" rx="0.7" fill="#f0a04a" opacity="0.9"/>
<rect x="402.2" y="189.2" width="4" height="1.5" rx="0.7" fill="#4aa8b8" opacity="0.9"/>
<rect x="407.8" y="189.2" width="7" height="1.5" rx="0.7" fill="#f0a04a" opacity="0.9"/>
<circle cx="378" cy="194.0" r="0.6" fill="#8ac0c8"/>
<rect x="382.0" y="193.3" width="9" height="1.5" rx="0.7" fill="#f0a04a" opacity="0.9"/>
<rect x="392.6" y="193.3" width="7" height="1.5" rx="0.7" fill="#4aa8b8" opacity="0.9"/>
<rect x="401.2" y="193.3" width="12" height="1.5" rx="0.7" fill="#f0a04a" opacity="0.9"/>
<rect x="414.8" y="193.3" width="9" height="1.5" rx="0.7" fill="#5fc4c0" opacity="0.9"/>
<path d="M432,106.5 H441 a3,3 0 0 1 3,3 V129 a3,3 0 0 0 3,3 H454" fill="none" stroke="#e8a052" stroke-width="1.1"/>
<path d="M452,129.6 L456.5,132 L452,134.4 Z" fill="#e8a052"/>
<path d="M434,151.5 H450" fill="none" stroke="#e8a052" stroke-width="1.1"/><path d="M448,149.1 L452.5,151.5 L448,153.9 Z" fill="#e8a052"/>
<path d="M432,184 H438 a3,3 0 0 0 3,-3 V174 a3,3 0 0 1 3,-3 H451" fill="none" stroke="#e8a052" stroke-width="1.1"/>
<path d="M449,168.6 L453.5,171 L449,173.4 Z" fill="#e8a052"/>
<path d="M456.5,112 V128" stroke="#58c8c0" stroke-width="0.9" stroke-dasharray="2.2 1.6" opacity="0.9"/>
<circle cx="456.5" cy="117.6" r="1.5" fill="#14385e" stroke="#58c8c0" stroke-width="0.8"/>
<path d="M470,104 V120" stroke="#58c8c0" stroke-width="0.9" stroke-dasharray="2.2 1.6" opacity="0.9"/>
<circle cx="470" cy="109.6" r="1.5" fill="#14385e" stroke="#58c8c0" stroke-width="0.8"/>
<path d="M483,100 V116" stroke="#e8a052" stroke-width="0.9" stroke-dasharray="2.2 1.6" opacity="0.9"/>
<circle cx="483" cy="105.6" r="1.5" fill="#14385e" stroke="#e8a052" stroke-width="0.8"/>
<path d="M501,92 V110" stroke="#58c8c0" stroke-width="0.9" stroke-dasharray="2.2 1.6" opacity="0.9"/>
<circle cx="501" cy="98.3" r="1.5" fill="#14385e" stroke="#58c8c0" stroke-width="0.8"/>
<path d="M517,98 V114" stroke="#58c8c0" stroke-width="0.9" stroke-dasharray="2.2 1.6" opacity="0.9"/>
<circle cx="517" cy="103.6" r="1.5" fill="#14385e" stroke="#58c8c0" stroke-width="0.8"/>
<path d="M532,104 V122" stroke="#e8a052" stroke-width="0.9" stroke-dasharray="2.2 1.6" opacity="0.9"/>
<circle cx="532" cy="110.3" r="1.5" fill="#14385e" stroke="#e8a052" stroke-width="0.8"/>
<path d="M545,112 V130" stroke="#58c8c0" stroke-width="0.9" stroke-dasharray="2.2 1.6" opacity="0.9"/>
<circle cx="545" cy="118.3" r="1.5" fill="#14385e" stroke="#58c8c0" stroke-width="0.8"/>
<path d="M452,186 V214" stroke="#58c8c0" stroke-width="0.8" stroke-dasharray="2 1.6" opacity="0.7"/>
<path d="M541,186 V214" stroke="#58c8c0" stroke-width="0.8" stroke-dasharray="2 1.6" opacity="0.7"/>
<path d="M548,186 V214" stroke="#58c8c0" stroke-width="0.8" stroke-dasharray="2 1.6" opacity="0.7"/>
<path d="M372,249 L504,182 L631,248 L505,316 Z" fill="#1b5474" fill-opacity="0.35" stroke="#86c6ea" stroke-width="1.1" stroke-linejoin="round"/>
<path d="M378,249 L504,185.2 L625,248 L505,312.6 Z" fill="none" stroke="#86c6ea" stroke-width="0.7" opacity="0.8"/>
<path d="M405.0,232.2 L536.5,299.0" stroke="#86c6ea" stroke-width="0.5" opacity="0.35"/>
<path d="M405.2,265.8 L535.8,198.5" stroke="#86c6ea" stroke-width="0.5" opacity="0.35"/>
<path d="M438.0,215.5 L568.0,282.0" stroke="#86c6ea" stroke-width="0.5" opacity="0.35"/>
<path d="M438.5,282.5 L567.5,215.0" stroke="#86c6ea" stroke-width="0.5" opacity="0.35"/>
<path d="M471.0,198.8 L599.5,265.0" stroke="#86c6ea" stroke-width="0.5" opacity="0.35"/>
<path d="M471.8,299.2 L599.2,231.5" stroke="#86c6ea" stroke-width="0.5" opacity="0.35"/>
<path d="M446,262 l14,7 m-22,-3 l-10,5 M470,282 l16,8 l8,-4 M520,262 l12,-6 M548,283 l14,-7 M560,240 l16,8" fill="none" stroke="#86c6ea" stroke-width="0.9" opacity="0.7"/>
<path d="M469,188 V212 Q469,216 465,218 L416,243 Q410,246 415,249 L424,254" fill="none" stroke="#f6ae5e" stroke-width="3.95" opacity="0.25" stroke-linejoin="round" stroke-linecap="round"/>
<path d="M469,188 V212 Q469,216 465,218 L416,243 Q410,246 415,249 L424,254" fill="none" stroke="#f6ae5e" stroke-width="1.35" stroke-linejoin="round" stroke-linecap="round"/>
<path d="M421,256.5 L428.5,257 L425,250.5 Z" fill="#f6ae5e"/>
<path d="M476.5,190 V219 Q476.5,223 472.5,225 L446,238.5 Q440,241.5 446,244.5 L466,255 Q471,258 466,261 L418,285 Q412.5,288 412.5,294 V318" fill="none" stroke="#f6ae5e" stroke-width="3.95" opacity="0.25" stroke-linejoin="round" stroke-linecap="round"/>
<path d="M476.5,190 V219 Q476.5,223 472.5,225 L446,238.5 Q440,241.5 446,244.5 L466,255 Q471,258 466,261 L418,285 Q412.5,288 412.5,294 V318" fill="none" stroke="#f6ae5e" stroke-width="1.35" stroke-linejoin="round" stroke-linecap="round"/>
<path d="M484,192 V226 Q484,230 480,232 L460,242 Q454,245 460,248 L478,257" fill="none" stroke="#6adad2" stroke-width="3.95" opacity="0.25" stroke-linejoin="round" stroke-linecap="round"/>
<path d="M484,192 V226 Q484,230 480,232 L460,242 Q454,245 460,248 L478,257" fill="none" stroke="#6adad2" stroke-width="1.35" stroke-linejoin="round" stroke-linecap="round"/>
<path d="M492,192 V232 Q492,236 488,238 L474,245" fill="none" stroke="#7ade98" stroke-width="3.95" opacity="0.25" stroke-linejoin="round" stroke-linecap="round"/>
<path d="M492,192 V232 Q492,236 488,238 L474,245" fill="none" stroke="#7ade98" stroke-width="1.35" stroke-linejoin="round" stroke-linecap="round"/>
<path d="M500.5,196 V318" fill="none" stroke="#6adad2" stroke-width="3.9000000000000004" opacity="0.25" stroke-linejoin="round" stroke-linecap="round"/>
<path d="M500.5,196 V318" fill="none" stroke="#6adad2" stroke-width="1.3" stroke-linejoin="round" stroke-linecap="round"/>
<path d="M509,194 V228 Q509,232 513,234 L531,243 Q536,246 531,249 L501,264 Q495,267 501,270 L520,280" fill="none" stroke="#6adad2" stroke-width="3.95" opacity="0.25" stroke-linejoin="round" stroke-linecap="round"/>
<path d="M509,194 V228 Q509,232 513,234 L531,243 Q536,246 531,249 L501,264 Q495,267 501,270 L520,280" fill="none" stroke="#6adad2" stroke-width="1.35" stroke-linejoin="round" stroke-linecap="round"/>
<path d="M516,194 V222 Q516,226 520,228 L545,240.5" fill="none" stroke="#7ade98" stroke-width="3.95" opacity="0.25" stroke-linejoin="round" stroke-linecap="round"/>
<path d="M516,194 V222 Q516,226 520,228 L545,240.5" fill="none" stroke="#7ade98" stroke-width="1.35" stroke-linejoin="round" stroke-linecap="round"/>
<path d="M523,192 V214 Q523,218 527,220 L586,250 Q592,253 586,256 L577,261" fill="none" stroke="#f6ae5e" stroke-width="3.95" opacity="0.25" stroke-linejoin="round" stroke-linecap="round"/>
<path d="M523,192 V214 Q523,218 527,220 L586,250 Q592,253 586,256 L577,261" fill="none" stroke="#f6ae5e" stroke-width="1.35" stroke-linejoin="round" stroke-linecap="round"/>
<path d="M580,263.5 L572.5,264.5 L575.5,257.5 Z" fill="#f6ae5e"/>
<path d="M531,190 V208 Q531,212 535,214 L596,245" fill="none" stroke="#7ade98" stroke-width="3.95" opacity="0.25" stroke-linejoin="round" stroke-linecap="round"/>
<path d="M531,190 V208 Q531,212 535,214 L596,245" fill="none" stroke="#7ade98" stroke-width="1.35" stroke-linejoin="round" stroke-linecap="round"/>
<path d="M499,254 L477,265 Q471,268 477,271 L517,291.5 Q522,294 527,291.5 L551,279.5 Q556,277 551,274 L545,271" fill="none" stroke="#f6ae5e" stroke-width="4.3" opacity="0.25" stroke-linejoin="round" stroke-linecap="round"/>
<path d="M499,254 L477,265 Q471,268 477,271 L517,291.5 Q522,294 527,291.5 L551,279.5 Q556,277 551,274 L545,271" fill="none" stroke="#f6ae5e" stroke-width="1.7" stroke-linejoin="round" stroke-linecap="round"/>
<path d="M548.5,269 L541,268 L544.5,275 Z" fill="#f6ae5e"/>
<path d="M590.5,318 V280 Q590.5,275 586,272.5 L562,260" fill="none" stroke="#6adad2" stroke-width="3.9000000000000004" opacity="0.25" stroke-linejoin="round" stroke-linecap="round"/>
<path d="M590.5,318 V280 Q590.5,275 586,272.5 L562,260" fill="none" stroke="#6adad2" stroke-width="1.3" stroke-linejoin="round" stroke-linecap="round"/>
<path d="M449.5,252 Q454.5,250 457.5,254 L457.5,270 Q453.5,268 449.5,266 Z" fill="#4fc6d4" opacity="0.55" stroke="#8fe6ea" stroke-width="0.6"/>
<path d="M555.5,252 Q560.5,250 563.5,254 L563.5,270 Q559.5,268 555.5,266 Z" fill="#4fc6d4" opacity="0.55" stroke="#8fe6ea" stroke-width="0.6"/>
<g filter="url(#glow)"><circle cx="404.5" cy="226.2" r="3.1" fill="#f2a85a"/><path d="M400.3,237.85 V233 Q400.3,230 404.5,230 Q408.7,230 408.7,233 V237.85 H407.1 V250 H404.9 V238.66 H404.1 V250 H401.9 V237.85 Z" fill="#f2a85a"/></g>
<g filter="url(#glow)"><circle cx="531.5" cy="249.7" r="3.1" fill="#f2a85a"/><path d="M527.3,261.35 V256.5 Q527.3,253.5 531.5,253.5 Q535.7,253.5 535.7,256.5 V261.35 H534.1 V273.5 H531.9 V262.16 H531.1 V273.5 H528.9 V261.35 Z" fill="#f2a85a"/></g>
<g filter="url(#glow)"><circle cx="586.5" cy="219.7" r="3.1" fill="#6fd48a"/><path d="M582.3,230.8 V226.5 Q582.3,223.5 586.5,223.5 Q590.7,223.5 590.7,226.5 V230.8 H589.1 V242.5 H586.9 V231.58 H586.1 V242.5 H583.9 V230.8 Z" fill="#6fd48a"/></g>
<linearGradient id="gBrainU" gradientUnits="userSpaceOnUse" x1="455" y1="120" x2="550" y2="185"><stop offset="0" stop-color="#48d2c6"/><stop offset="0.42" stop-color="#3fa6d2"/><stop offset="0.75" stop-color="#5a78cc"/><stop offset="1" stop-color="#7458ba"/></linearGradient>
<ellipse cx="502.5" cy="152" rx="52" ry="42" fill="#39c0c4" opacity="0.22" filter="url(#blur3)"/>
<path d="M498,184 Q506,197 517,204 L522,198 Q514,192 511,183 Z" fill="#5a6cc4" stroke="#14305c" stroke-width="1.5" stroke-linejoin="round"/>
<circle cx="490" cy="183" r="8.5" fill="url(#gBrainU)" stroke="#14305c" stroke-width="1.5"/>
<circle cx="515" cy="183" r="8.5" fill="url(#gBrainU)" stroke="#14305c" stroke-width="1.5"/>
<circle cx="478" cy="179" r="10" fill="url(#gBrainU)" stroke="#14305c" stroke-width="1.5"/>
<circle cx="527" cy="179" r="10" fill="url(#gBrainU)" stroke="#14305c" stroke-width="1.5"/>
<circle cx="467" cy="171" r="10" fill="url(#gBrainU)" stroke="#14305c" stroke-width="1.5"/>
<circle cx="538" cy="171" r="10" fill="url(#gBrainU)" stroke="#14305c" stroke-width="1.5"/>
<circle cx="461" cy="158" r="10.5" fill="url(#gBrainU)" stroke="#14305c" stroke-width="1.5"/>
<circle cx="544" cy="158" r="10.5" fill="url(#gBrainU)" stroke="#14305c" stroke-width="1.5"/>
<circle cx="463" cy="144" r="10.5" fill="url(#gBrainU)" stroke="#14305c" stroke-width="1.5"/>
<circle cx="542" cy="144" r="10.5" fill="url(#gBrainU)" stroke="#14305c" stroke-width="1.5"/>
<circle cx="471" cy="131.5" r="11" fill="url(#gBrainU)" stroke="#14305c" stroke-width="1.5"/>
<circle cx="534" cy="131.5" r="11" fill="url(#gBrainU)" stroke="#14305c" stroke-width="1.5"/>
<circle cx="487" cy="126" r="12.5" fill="url(#gBrainU)" stroke="#14305c" stroke-width="1.5"/>
<circle cx="518" cy="126" r="12.5" fill="url(#gBrainU)" stroke="#14305c" stroke-width="1.5"/>
<ellipse cx="484" cy="153" rx="19" ry="27" fill="url(#gBrainU)"/><ellipse cx="521" cy="153" rx="19" ry="27" fill="url(#gBrainU)"/>
<path d="M502.5,116 V136 M489,120 Q494,128 488,136 M476,126 Q482,134 476,142 M465,140 Q474,142 476,151 M459,156 Q468,154 473,161 M466,172 Q472,166 480,170 M516,120 Q511,128 517,136 M529,126 Q523,134 529,142 M540,140 Q531,142 529,151 M546,156 Q537,154 532,161 M539,172 Q533,166 525,170" fill="none" stroke="#1a4a84" stroke-width="1.3" stroke-linecap="round" opacity="0.9"/>
<path d="M480,121 Q486,117 492,121 M465,134 Q470,129 476,132 M457,150 Q461,146 466,149 M459,165 Q464,162 468,166 M513,121 Q519,117 525,121 M529,132 Q535,129 540,134 M539,149 Q544,146 548,150 M537,166 Q541,162 546,165" fill="none" stroke="#a8f4ec" stroke-width="1" stroke-linecap="round" opacity="0.7"/>
<rect x="476.5" y="134.5" width="52" height="51" rx="7.5" fill="#0f2f58" opacity="0.55" transform="translate(0,2)"/>
<rect x="476.5" y="134.5" width="52" height="51" rx="7.5" fill="url(#gChip)" stroke="#8ed2ea" stroke-width="1.4"/>
<rect x="479" y="137" width="47" height="46" rx="6" fill="none" stroke="#1b4a7c" stroke-width="1"/>
<text x="502.5" y="169.3" font-size="33" font-weight="bold" fill="#ffffff" text-anchor="middle" textLength="35" lengthAdjust="spacingAndGlyphs">AI</text>
<text x="502.5" y="179.2" font-size="7.2" font-weight="bold" fill="#eef6fb" text-anchor="middle" textLength="43" lengthAdjust="spacingAndGlyphs">ANALYTICS</text>
<text x="591.7" y="106.8" font-size="7.4" fill="#f6ecd6" text-anchor="middle" textLength="67" lengthAdjust="spacingAndGlyphs" font-weight="bold">SMART DECISION</text>
<text x="591.7" y="116" font-size="7.4" fill="#f6ecd6" text-anchor="middle" textLength="23.5" lengthAdjust="spacingAndGlyphs" font-weight="bold">FLOW</text>
<rect x="576.7" y="126" width="36.6" height="10.5" rx="1.6" fill="#ee7f32" stroke="#f8b070" stroke-width="0.7"/>
<rect x="570" y="153.3" width="50.7" height="10.7" rx="1.6" fill="#3aa85a" stroke="#7fd890" stroke-width="0.7"/>
<text x="595.3" y="160.6" font-size="3.6" fill="#dff5e4" text-anchor="middle" font-weight="normal">Analysis</text>
<path d="M595,167 L605.5,175 L595,183 L584.5,175 Z" fill="#ee7f32" stroke="#f8b070" stroke-width="0.7"/>
<rect x="569.3" y="187.3" width="15.8" height="11.5" rx="2" fill="#2f8fd0" stroke="#7cc4f0" stroke-width="0.7"/>
<rect x="606" y="187.3" width="15.8" height="11.5" rx="2" fill="#3aa85a" stroke="#7fd890" stroke-width="0.7"/>
<path d="M595,136.5 V149" stroke="#e8a052" stroke-width="1"/><path d="M592.6,147.5 L595,152 L597.4,147.5 Z" fill="#e8a052"/>
<path d="M595,164 V166" stroke="#e8a052" stroke-width="1"/>
<path d="M584.5,175 H580 a3,3 0 0 0 -3,3 V183" fill="none" stroke="#58c8c0" stroke-width="1"/><path d="M574.6,182 L577,186.5 L579.4,182 Z" fill="#58c8c0"/>
<path d="M605.5,175 H611 a3,3 0 0 1 3,3 V183" fill="none" stroke="#e8a052" stroke-width="1"/><path d="M611.6,182 L614,186.5 L616.4,182 Z" fill="#e8a052"/>
<path d="M587,193 H602" stroke="#58c8c0" stroke-width="1"/><path d="M600.5,190.6 L605,193 L600.5,195.4 Z" fill="#58c8c0"/>
<path d="M576,131 H568 a3,3 0 0 0 -3,3 V155 a3,3 0 0 1 -3,3 H556" fill="none" stroke="#e8a052" stroke-width="1"/><path d="M557.5,155.6 L553,158 L557.5,160.4 Z" fill="#e8a052"/>
<path d="M569,193 H564 a3,3 0 0 1 -3,-3 V170 a3,3 0 0 0 -3,-3 H554" fill="none" stroke="#58c8c0" stroke-width="1"/><path d="M555.5,164.6 L551,167 L555.5,169.4 Z" fill="#58c8c0"/>
<path d="M552,143 h8" stroke="#58c8c0" stroke-width="0.8" stroke-dasharray="1.5 1.2"/>
<text x="377.5" y="207.6" font-size="6.9" fill="#6fd6cf" font-weight="bold" textLength="63.5" lengthAdjust="spacingAndGlyphs">Customer movement</text>
<text x="377.5" y="215" font-size="6.9" fill="#6fd6cf" font-weight="bold" textLength="25.5" lengthAdjust="spacingAndGlyphs">tracking</text>
<text x="610.3" y="207.6" font-size="6.9" fill="#6fd6cf" font-weight="bold" text-anchor="middle" textLength="28.7" lengthAdjust="spacingAndGlyphs">Real-time</text>
<text x="610.3" y="215" font-size="6.9" fill="#6fd6cf" font-weight="bold" text-anchor="middle" textLength="33.6" lengthAdjust="spacingAndGlyphs">Predictions</text>
<path d="M445,346.3 H469" stroke="#6adad2" stroke-width="1.4"/>
<path d="M533.5,346.3 H558" stroke="#f6ae5e" stroke-width="1.4"/>
<rect x="379.7" y="317" width="65.5" height="60" rx="6.5" fill="url(#gLB)" stroke="#ffffff" stroke-width="1.3"/>
<rect x="468.5" y="317" width="65.5" height="60" rx="6.5" fill="url(#gLB)" stroke="#ffffff" stroke-width="1.3"/>
<rect x="557.8" y="317" width="65.5" height="60" rx="6.5" fill="url(#gLB)" stroke="#ffffff" stroke-width="1.3"/>
<path d="M397,323 V348 H428" fill="none" stroke="#222222" stroke-width="1.2"/>
<rect x="400.0" y="342.0" width="4.2" height="5.5" fill="#e8873a" stroke="#2b2b2b" stroke-width="0.4"/>
<rect x="406.6" y="338.5" width="4.2" height="9" fill="#3aa05a" stroke="#2b2b2b" stroke-width="0.4"/>
<rect x="413.2" y="340.0" width="4.2" height="7.5" fill="#3aa05a" stroke="#2b2b2b" stroke-width="0.4"/>
<rect x="419.8" y="333.5" width="4.2" height="14" fill="#3aa05a" stroke="#2b2b2b" stroke-width="0.4"/>
<path d="M400,340 L408,333.5 L413.5,337 L424.5,326" fill="none" stroke="#e8873a" stroke-width="1.5" stroke-linejoin="round"/><path d="M421,325 L427.5,323.5 L425.8,330 Z" fill="#e8873a" stroke="#7a3f1c" stroke-width="0.4"/>
<path d="M486.5,323 V348 H518" fill="none" stroke="#222222" stroke-width="1.2"/>
<path d="M489,345 Q494,344 497,339 L503,334.5 L509,333 L515,326" fill="none" stroke="#3a8ab8" stroke-width="1.3"/>
<circle cx="492.5" cy="342.5" r="1.6" fill="#e8873a" stroke="#2b2b2b" stroke-width="0.4"/>
<circle cx="497.5" cy="338.5" r="1.6" fill="#e8873a" stroke="#2b2b2b" stroke-width="0.4"/>
<circle cx="503" cy="334.5" r="1.6" fill="#3a8ab8" stroke="#2b2b2b" stroke-width="0.4"/>
<circle cx="506.5" cy="335.5" r="1.6" fill="#e8873a" stroke="#2b2b2b" stroke-width="0.4"/>
<circle cx="510" cy="331.5" r="1.6" fill="#3a8ab8" stroke="#2b2b2b" stroke-width="0.4"/>
<circle cx="515.5" cy="325.5" r="1.6" fill="#3a8ab8" stroke="#2b2b2b" stroke-width="0.4"/>
<path d="M575,348 H607" fill="none" stroke="#222222" stroke-width="1.2"/>
<rect x="577.0" y="343.5" width="3.8" height="4" fill="#e8873a" stroke="#2b2b2b" stroke-width="0.4"/>
<rect x="582.8" y="339.5" width="3.8" height="8" fill="#e8873a" stroke="#2b2b2b" stroke-width="0.4"/>
<rect x="588.6" y="341.0" width="3.8" height="6.5" fill="#3a8ab8" stroke="#2b2b2b" stroke-width="0.4"/>
<rect x="594.4" y="337.0" width="3.8" height="10.5" fill="#3a8ab8" stroke="#2b2b2b" stroke-width="0.4"/>
<rect x="600.2" y="331.5" width="3.8" height="16" fill="#3a8ab8" stroke="#2b2b2b" stroke-width="0.4"/>
<path d="M576.5,338.5 L584,332 L590,336.5 L602.5,325" fill="none" stroke="#3a8ab8" stroke-width="1.4" stroke-linejoin="round"/><path d="M599.5,324 L606,322.5 L604.3,329 Z" fill="#3a8ab8" stroke="#1f4f70" stroke-width="0.4"/>
<circle cx="584" cy="332" r="1.3" fill="#e8873a" stroke="#2b2b2b" stroke-width="0.4"/>
<circle cx="590" cy="336.5" r="1.3" fill="#e8873a" stroke="#2b2b2b" stroke-width="0.4"/>
<text x="412.5" y="360.9" font-size="11" font-weight="bold" fill="#14222e" text-anchor="middle" textLength="28.5" lengthAdjust="spacingAndGlyphs">Linear</text>
<text x="412.5" y="371.2" font-size="11" font-weight="bold" fill="#14222e" text-anchor="middle" textLength="48.5" lengthAdjust="spacingAndGlyphs">Regression</text>
<text x="501.2" y="360.9" font-size="11" font-weight="bold" fill="#14222e" text-anchor="middle" textLength="35" lengthAdjust="spacingAndGlyphs">Logistic</text>
<text x="501.2" y="371.2" font-size="11" font-weight="bold" fill="#14222e" text-anchor="middle" textLength="48.5" lengthAdjust="spacingAndGlyphs">Regression</text>
<text x="590.7" y="360.9" font-size="11" font-weight="bold" fill="#14222e" text-anchor="middle" textLength="42" lengthAdjust="spacingAndGlyphs">Real-time</text>
<text x="590.7" y="371.2" font-size="11" font-weight="bold" fill="#14222e" text-anchor="middle" textLength="49" lengthAdjust="spacingAndGlyphs">Predictions</text>
</g>
<rect x="365.5" y="31.5" width="273" height="53.5" rx="21" fill="url(#gGr)"/>
<rect x="370" y="33" width="264" height="18" rx="14" fill="#a6e070" opacity="0.08"/>
<g filter="url(#ts)">
<text x="443.3" y="55.6" font-size="16.2" font-weight="bold" fill="#f4f7e4" text-anchor="start" textLength="111.7" lengthAdjust="spacingAndGlyphs">AI SOLUTION:</text>
<text x="397.0" y="74.0" font-size="16.2" font-weight="bold" fill="#f4f7e4" text-anchor="start" textLength="209.0" lengthAdjust="spacingAndGlyphs">CORE TRANSFORMATION</text>
</g>
<g transform="translate(376.0,405.5) scale(1.062)"><path d="M0.6,-1.5 Q0.3,-2.9 2,-2.9 L4.4,-2.9 L8.6,-5.3 Q9.9,-5.7 10.3,-4.6 L10,-2.9 L15,-2.9 Q16.2,-2.7 16.1,-1.6 Q16,-0.4 15,-0.3 L10.7,-0.3 Q11.1,1 10.2,1.8 Q10.4,3.2 9.4,3.8 Q9.2,5.2 8,5.3 L2.2,5.3 Q0.5,5.2 0.4,3.5 Z" fill="url(#gHand)"/><path d="M7.2,-0.3 L10.7,-0.3 M7,1.8 L10.2,1.8 M7.2,3.8 L9.4,3.8 M5.2,-2.9 L9.9,-2.9" stroke="#e39a1c" stroke-width="0.55" fill="none" stroke-linecap="round"/></g>
<text x="397.8" y="410.0" font-size="14.6" font-weight="bold" fill="#1c1c1c" text-anchor="start" textLength="167.2" lengthAdjust="spacingAndGlyphs">Customer movement tracking</text>
<g transform="translate(376.0,426.5) scale(1.062)"><path d="M0.6,-1.5 Q0.3,-2.9 2,-2.9 L4.4,-2.9 L8.6,-5.3 Q9.9,-5.7 10.3,-4.6 L10,-2.9 L15,-2.9 Q16.2,-2.7 16.1,-1.6 Q16,-0.4 15,-0.3 L10.7,-0.3 Q11.1,1 10.2,1.8 Q10.4,3.2 9.4,3.8 Q9.2,5.2 8,5.3 L2.2,5.3 Q0.5,5.2 0.4,3.5 Z" fill="url(#gHand)"/><path d="M7.2,-0.3 L10.7,-0.3 M7,1.8 L10.2,1.8 M7.2,3.8 L9.4,3.8 M5.2,-2.9 L9.9,-2.9" stroke="#e39a1c" stroke-width="0.55" fill="none" stroke-linecap="round"/></g>
<text x="397.8" y="430.6" font-size="14.6" font-weight="bold" fill="#1c1c1c" text-anchor="start" textLength="152.2" lengthAdjust="spacingAndGlyphs">Queue &amp; wait time analysis</text>
<g transform="translate(376.0,446.5) scale(1.062)"><path d="M0.6,-1.5 Q0.3,-2.9 2,-2.9 L4.4,-2.9 L8.6,-5.3 Q9.9,-5.7 10.3,-4.6 L10,-2.9 L15,-2.9 Q16.2,-2.7 16.1,-1.6 Q16,-0.4 15,-0.3 L10.7,-0.3 Q11.1,1 10.2,1.8 Q10.4,3.2 9.4,3.8 Q9.2,5.2 8,5.3 L2.2,5.3 Q0.5,5.2 0.4,3.5 Z" fill="url(#gHand)"/><path d="M7.2,-0.3 L10.7,-0.3 M7,1.8 L10.2,1.8 M7.2,3.8 L9.4,3.8 M5.2,-2.9 L9.9,-2.9" stroke="#e39a1c" stroke-width="0.55" fill="none" stroke-linecap="round"/></g>
<text x="397.8" y="450.8" font-size="14.6" font-weight="bold" fill="#1c1c1c" text-anchor="start" textLength="116.2" lengthAdjust="spacingAndGlyphs">Predictive modelling</text>
<text x="397.8" y="464.8" font-size="14.6" font-weight="bold" fill="#1c1c1c" text-anchor="start" textLength="110.5" lengthAdjust="spacingAndGlyphs">(balking prediction)</text>
</g>
<g id="flow">
<path d="M328,283 H332 a11,11 0 0 1 11,11 V515 a11,11 0 0 0 11,11 H360" fill="none" stroke="url(#gArrO)" stroke-width="5.5"/>
<path d="M357,517 L369.5,526.5 L357,536 Z" fill="#e4571a"/>
<path d="M646,250.5 H652 a14,14 0 0 0 14,-14 V131 a14,14 0 0 1 14,-14 H676" fill="none" stroke="url(#gArrO2)" stroke-width="5.5" stroke-linecap="butt"/>
<path d="M672,108.5 L683,117 L672,125.5 Z" fill="#f49a30"/>
<rect x="740" y="136" width="7" height="44" fill="url(#gArrO3)"/>
<path d="M734.5,177.5 H752.5 L743.5,191 Z" fill="#e04a1a"/>
<rect x="740" y="231" width="7" height="46" fill="url(#gArrGT)"/>
<path d="M734,274 H753 L743.5,288 Z" fill="#1f84a8"/>
<path d="M673.5,508 V326 a14,14 0 0 1 14,-14 H690" fill="none" stroke="url(#gArrG)" stroke-width="6"/>
<path d="M686,303.5 L697.5,312 L686,320.5 Z" fill="#5cb44c"/>
<path d="M789,314 H805 a15,15 0 0 0 15,-15 V80 a22,22 0 0 1 22,-22 H850" fill="none" stroke="url(#gArrT)" stroke-width="7"/>
<path d="M846.5,49 L860.5,58 L846.5,67 Z" fill="#22aab4"/>
<rect x="717.3" y="334" width="6.4" height="70" fill="#23a0ac"/>
<path d="M688,526 H704 a17,17 0 0 0 17,-17 V500" fill="none" stroke="#1d8eae" stroke-width="7"/>
<path d="M712,503.5 L721.5,490.5 L731,503.5 Z" fill="#1d8eae"/>
<rect x="466" y="524.5" width="18" height="6.5" fill="#ea6e22"/>
<rect x="577" y="524.5" width="18" height="6.5" fill="#ea6e22"/>
<rect x="681.8" y="95.7" width="123.5" height="42" rx="21.0" fill="#fff8ef" filter="url(#shs)"/>
<rect x="684.3" y="98.2" width="118.5" height="37" rx="18.5" fill="url(#gOr)"/>
<rect x="687.3" y="99.7" width="112.5" height="14.8" rx="12.9" fill="#ffc070" opacity="0.12"/>
<rect x="681.8" y="191.3" width="123.5" height="42" rx="21.0" fill="#fff8ef" filter="url(#shs)"/>
<rect x="684.3" y="193.8" width="118.5" height="37" rx="18.5" fill="url(#gGr)"/>
<rect x="687.3" y="195.3" width="112.5" height="14.8" rx="12.9" fill="#a8e080" opacity="0.12"/>
<rect x="696.0" y="290.7" width="95" height="46" rx="20.0" fill="#fff8ef" filter="url(#shs)"/>
<rect x="698.5" y="293.2" width="90" height="41" rx="17.5" fill="url(#gTeBox)"/>
<rect x="701.5" y="294.7" width="84" height="16.4" rx="12.2" fill="#70e0e0" opacity="0.12"/>
<rect x="371.0" y="506.0" width="96" height="46" rx="19.5" fill="#fff8ef" filter="url(#shs)"/>
<rect x="373.5" y="508.5" width="91" height="41" rx="17" fill="url(#gGr)"/>
<rect x="376.5" y="510.0" width="85" height="16.4" rx="11.9" fill="#a8e080" opacity="0.12"/>
<rect x="482.5" y="506.0" width="96" height="46" rx="19.5" fill="#fff8ef" filter="url(#shs)"/>
<rect x="485" y="508.5" width="91" height="41" rx="17" fill="url(#gOr)"/>
<rect x="488" y="510.0" width="85" height="16.4" rx="11.9" fill="#ffc070" opacity="0.12"/>
<rect x="594.0" y="506.0" width="96" height="46" rx="19.5" fill="#fff8ef" filter="url(#shs)"/>
<rect x="596.5" y="508.5" width="91" height="41" rx="17" fill="url(#gTeBox)"/>
<rect x="599.5" y="510.0" width="85" height="16.4" rx="11.9" fill="#70e0e0" opacity="0.12"/>
<g filter="url(#ts)">
<text x="695.0" y="121.8" font-size="14" font-weight="bold" fill="#fdf1dc" text-anchor="start" textLength="95.0" lengthAdjust="spacingAndGlyphs">Customer Data</text>
<text x="702.7" y="218.0" font-size="14" font-weight="bold" fill="#f4f7e4" text-anchor="start" textLength="80.6" lengthAdjust="spacingAndGlyphs">AI Prediction</text>
<text x="743.5" y="310.8" font-size="14.2" font-weight="bold" fill="#eefafa" text-anchor="middle" textLength="40.0" lengthAdjust="spacingAndGlyphs">Smart</text>
<text x="743.5" y="325.8" font-size="14.2" font-weight="bold" fill="#eefafa" text-anchor="middle" textLength="49.0" lengthAdjust="spacingAndGlyphs">Actions</text>
<text x="419.0" y="526.4" font-size="14" font-weight="bold" fill="#f4f7e4" text-anchor="middle" textLength="61.0" lengthAdjust="spacingAndGlyphs">Customer</text>
<text x="419.0" y="540.8" font-size="14" font-weight="bold" fill="#f4f7e4" text-anchor="middle" textLength="29.0" lengthAdjust="spacingAndGlyphs">Data</text>
<text x="530.5" y="526.4" font-size="14" font-weight="bold" fill="#fdf1dc" text-anchor="middle" textLength="13.0" lengthAdjust="spacingAndGlyphs">AI</text>
<text x="530.5" y="540.8" font-size="14" font-weight="bold" fill="#fdf1dc" text-anchor="middle" textLength="64.5" lengthAdjust="spacingAndGlyphs">Prediction</text>
<text x="642.0" y="526.4" font-size="14" font-weight="bold" fill="#eefafa" text-anchor="middle" textLength="37.5" lengthAdjust="spacingAndGlyphs">Better</text>
<text x="642.0" y="540.8" font-size="14" font-weight="bold" fill="#eefafa" text-anchor="middle" textLength="29.0" lengthAdjust="spacingAndGlyphs">Flow</text>
</g>
<text x="696.0" y="66.0" font-size="17.6" font-weight="bold" fill="#111111" text-anchor="start" textLength="93.3" lengthAdjust="spacingAndGlyphs">MID-FLOW</text>
<rect x="703" y="357.5" width="35.5" height="34.5" rx="6" fill="#ffffff" filter="url(#shs)"/>
<rect x="703" y="402" width="35.5" height="34.5" rx="6" fill="#ffffff" filter="url(#shs)"/>
<rect x="703" y="445.5" width="35.5" height="34.5" rx="6" fill="#ffffff" filter="url(#shs)"/>
<circle cx="714.5" cy="365.5" r="3.4" fill="#45b077" stroke="#1d4a36" stroke-width="0.9"/>
<path d="M707.5,381.500 V374.500 Q707.5,370.500 711.5,370 L714.5,372 L717.5,370 Q721.5,370.500 721.5,374.500 V381.500 Z" fill="#45b077" stroke="#1d4a36" stroke-width="0.9"/>
<ellipse cx="726" cy="386.0" rx="7.6" ry="2.7" fill="#ee8a34" stroke="#9a4a14" stroke-width="0.9"/>
<ellipse cx="726" cy="382.9" rx="7.6" ry="2.7" fill="#ee8a34" stroke="#9a4a14" stroke-width="0.9"/>
<ellipse cx="726" cy="379.8" rx="7.6" ry="2.7" fill="#ee8a34" stroke="#9a4a14" stroke-width="0.9"/>
<ellipse cx="726" cy="376.7" rx="7.6" ry="2.7" fill="#ee8a34" stroke="#9a4a14" stroke-width="0.9"/>
<ellipse cx="726" cy="376.2" rx="5.2" ry="1.5" fill="#f8b05a"/>
<circle cx="710.5" cy="415.9" r="2.8" fill="#45b077" stroke="#1d4a36" stroke-width="0.9"/>
<path d="M704.6,427.6 V423.1 Q704.6,419.5 708.2,419.5 H712.8 Q716.4,419.5 716.4,423.1 V427.6 Z" fill="#45b077" stroke="#1d4a36" stroke-width="0.9"/>
<circle cx="731" cy="415.9" r="2.8" fill="#45b077" stroke="#1d4a36" stroke-width="0.9"/>
<path d="M725.1,427.6 V423.1 Q725.1,419.5 728.8,419.5 H733.2 Q736.9,419.5 736.9,423.1 V427.6 Z" fill="#45b077" stroke="#1d4a36" stroke-width="0.9"/>
<circle cx="720.8" cy="410.3" r="4.0" fill="#f09a4a" stroke="#9a4a14" stroke-width="0.9"/>
<path d="M712.3,427.2 V420.7 Q712.3,415.5 717.5,415.5 H724.0 Q729.2,415.5 729.2,420.7 V427.2 Z" fill="#45b077" stroke="#1d4a36" stroke-width="0.9"/>
<path d="M719,415.800 L720.8,422.500 L722.600,415.800 Z" fill="#f4f4ec" stroke="#1f6a44" stroke-width="0.4"/>
<polygon points="734.0,462.5 731.6,465.4 732.2,469.1 728.7,470.4 727.4,473.9 723.7,473.3 720.8,475.7 717.9,473.3 714.2,473.9 712.9,470.4 709.4,469.1 710.0,465.4 707.6,462.5 710.0,459.6 709.4,455.9 712.9,454.6 714.2,451.1 717.9,451.7 720.8,449.3 723.7,451.7 727.4,451.1 728.7,454.6 732.2,455.9 731.6,459.6" fill="#45b077" stroke="#1d4a36" stroke-width="0.8" stroke-linejoin="round"/>
<circle cx="720.8" cy="462.5" r="8.6" fill="#f7c64a" stroke="#1d4a36" stroke-width="0.8"/>
<polygon points="720.8,456.6 722.4,460.6 726.7,460.9 723.4,463.6 724.4,467.8 720.8,465.5 717.2,467.8 718.2,463.6 714.9,460.9 719.2,460.6" fill="#f08a2a" stroke="#9a4a14" stroke-width="0.6" stroke-linejoin="round"/>
<text x="746.6" y="373.5" font-size="12.2" font-weight="bold" fill="#1c1c1c" text-anchor="start" textLength="79.6" lengthAdjust="spacingAndGlyphs">Open additional</text>
<text x="746.6" y="385.7" font-size="12.2" font-weight="bold" fill="#1c1c1c" text-anchor="start" textLength="44.0" lengthAdjust="spacingAndGlyphs">counters</text>
<text x="746.6" y="416.9" font-size="12.2" font-weight="bold" fill="#1c1c1c" text-anchor="start" textLength="70.4" lengthAdjust="spacingAndGlyphs">Dynamic staff</text>
<text x="746.6" y="429.3" font-size="12.2" font-weight="bold" fill="#1c1c1c" text-anchor="start" textLength="49.6" lengthAdjust="spacingAndGlyphs">allocation</text>
<text x="746.6" y="460.7" font-size="12.2" font-weight="bold" fill="#1c1c1c" text-anchor="start" textLength="32.1" lengthAdjust="spacingAndGlyphs">Digital</text>
<text x="746.6" y="473.1" font-size="12.2" font-weight="bold" fill="#1c1c1c" text-anchor="start" textLength="51.4" lengthAdjust="spacingAndGlyphs">incentives</text>
</g>
<g id="panel3">
<rect x="870.5" y="31.5" width="291" height="53.5" rx="21" fill="url(#gTe)"/>
<rect x="875" y="33" width="282" height="18" rx="14" fill="#70e8e0" opacity="0.08"/>
<g filter="url(#ts)">
<text x="935.0" y="55.6" font-size="16.2" font-weight="bold" fill="#f8ffff" text-anchor="start" textLength="155.7" lengthAdjust="spacingAndGlyphs">BUSINESS IMPACT:</text>
<text x="944.0" y="74.0" font-size="16.2" font-weight="bold" fill="#f8ffff" text-anchor="start" textLength="142.0" lengthAdjust="spacingAndGlyphs">MAIN HIGHLIGHT</text>
</g>
<rect x="873" y="94.5" width="286" height="90" rx="11" fill="url(#gOrBox)" stroke="#f9a85a" stroke-width="1.2" filter="url(#shs)"/>
<ellipse cx="886.7" cy="165.7" rx="4.1" ry="2.0" fill="#5a3626" stroke="#4a2c1c" stroke-width="0.5"/>
<path d="M885.0,137.6 L887.2,152.8 L884.7,163.7" fill="none" stroke="#4a2c1c" stroke-width="7.2" stroke-linecap="butt" stroke-linejoin="round"/>
<path d="M885.0,137.6 L887.2,152.8 L884.7,163.7" fill="none" stroke="#3d74a0" stroke-width="5.8" stroke-linecap="butt" stroke-linejoin="round"/>
<ellipse cx="893.0" cy="166.7" rx="4.1" ry="2.0" fill="#5a3626" stroke="#4a2c1c" stroke-width="0.5"/>
<path d="M891.0,137.6 L889.8,152.2 L891.0,164.7" fill="none" stroke="#4a2c1c" stroke-width="7.2" stroke-linecap="butt" stroke-linejoin="round"/>
<path d="M891.0,137.6 L889.8,152.2 L891.0,164.7" fill="none" stroke="#3d74a0" stroke-width="5.8" stroke-linecap="butt" stroke-linejoin="round"/>
<path d="M880.2,118.2 Q880.2,114.2 883.7,113.2 L892.3,113.2 Q895.8,114.2 895.8,118.2 L894.9,139.6 L881.1,139.6 Z" fill="#3c9c54" stroke="#4a2c1c" stroke-width="0.7" stroke-linejoin="round"/>
<path d="M881.0,117.6 L879.8,131.0 L887.2,129.1" fill="none" stroke="#4a2c1c" stroke-width="5.6" stroke-linecap="round" stroke-linejoin="round"/>
<path d="M881.0,117.6 L879.8,131.0 L887.2,129.1" fill="none" stroke="#3c9c54" stroke-width="4.2" stroke-linecap="round" stroke-linejoin="round"/>
<path d="M895.0,117.6 L896.2,131.0 L888.8,127.7" fill="none" stroke="#4a2c1c" stroke-width="5.6" stroke-linecap="round" stroke-linejoin="round"/>
<path d="M895.0,117.6 L896.2,131.0 L888.8,127.7" fill="none" stroke="#3c9c54" stroke-width="4.2" stroke-linecap="round" stroke-linejoin="round"/>
<circle cx="888.0" cy="127.7" r="2.3" fill="#f2bb92" stroke="#4a2c1c" stroke-width="0.4"/>
<rect x="886.0" y="111.9" width="4.1" height="4.3" fill="#f2bb92"/>
<circle cx="888.0" cy="108.5" r="5.7" fill="#f2bb92" stroke="#4a2c1c" stroke-width="0.7"/>
<path d="M882.0,108.2 Q880.6,101.1 887.4,101.1 Q895.1,100.9 894.0,108.2 Q892.5,105.4 889.1,105.7 Q884.6,106.0 882.0,108.2 Z" fill="#5a3420" stroke="#4a2c1c" stroke-width="0.5"/>
<circle cx="886.6" cy="109.0" r="0.51" fill="#4a2c1c"/><circle cx="890.7" cy="109.0" r="0.51" fill="#4a2c1c"/>
<path d="M887.3,111.4 Q888.7,112.4 890.1,111.4" fill="none" stroke="#4a2c1c" stroke-width="0.45" stroke-linecap="round"/>
<ellipse cx="909.7" cy="169.7" rx="4.1" ry="2.0" fill="#5a3626" stroke="#4a2c1c" stroke-width="0.5"/>
<path d="M908.0,141.6 L910.2,156.8 L907.7,167.7" fill="none" stroke="#4a2c1c" stroke-width="7.2" stroke-linecap="butt" stroke-linejoin="round"/>
<path d="M908.0,141.6 L910.2,156.8 L907.7,167.7" fill="none" stroke="#3d74a0" stroke-width="5.8" stroke-linecap="butt" stroke-linejoin="round"/>
<ellipse cx="916.0" cy="170.7" rx="4.1" ry="2.0" fill="#5a3626" stroke="#4a2c1c" stroke-width="0.5"/>
<path d="M914.0,141.6 L912.8,156.2 L914.0,168.7" fill="none" stroke="#4a2c1c" stroke-width="7.2" stroke-linecap="butt" stroke-linejoin="round"/>
<path d="M914.0,141.6 L912.8,156.2 L914.0,168.7" fill="none" stroke="#3d74a0" stroke-width="5.8" stroke-linecap="butt" stroke-linejoin="round"/>
<path d="M904.0,121.6 L902.0,137.7 L902.9,144.3" fill="none" stroke="#4a2c1c" stroke-width="5.6" stroke-linecap="round" stroke-linejoin="round"/>
<path d="M904.0,121.6 L902.0,137.7 L902.9,144.3" fill="none" stroke="#e8683a" stroke-width="4.2" stroke-linecap="round" stroke-linejoin="round"/>
<path d="M903.2,122.2 Q903.2,118.2 906.7,117.2 L915.3,117.2 Q918.8,118.2 918.8,122.2 L917.9,143.6 L904.1,143.6 Z" fill="#e8683a" stroke="#4a2c1c" stroke-width="0.7" stroke-linejoin="round"/>
<path d="M918.0,121.6 L920.0,137.7 L919.4,144.3" fill="none" stroke="#4a2c1c" stroke-width="5.6" stroke-linecap="round" stroke-linejoin="round"/>
<path d="M918.0,121.6 L920.0,137.7 L919.4,144.3" fill="none" stroke="#e8683a" stroke-width="4.2" stroke-linecap="round" stroke-linejoin="round"/>
<circle cx="919.4" cy="145.9" r="2.1" fill="#d89a6c" stroke="#4a2c1c" stroke-width="0.4"/>
<circle cx="902.9" cy="145.9" r="2.1" fill="#d89a6c" stroke="#4a2c1c" stroke-width="0.4"/>
<rect x="909.0" y="115.9" width="4.1" height="4.3" fill="#d89a6c"/>
<circle cx="911.0" cy="112.5" r="5.7" fill="#d89a6c" stroke="#4a2c1c" stroke-width="0.7"/>
<path d="M905.0,112.2 Q903.6,105.1 910.4,105.1 Q918.1,104.9 917.0,112.2 Q915.5,109.4 912.1,109.7 Q907.6,110.0 905.0,112.2 Z" fill="#4a2c1c" stroke="#4a2c1c" stroke-width="0.5"/>
<circle cx="909.6" cy="113.0" r="0.51" fill="#4a2c1c"/><circle cx="913.7" cy="113.0" r="0.51" fill="#4a2c1c"/>
<path d="M910.3,115.4 Q911.7,116.4 913.1,115.4" fill="none" stroke="#4a2c1c" stroke-width="0.45" stroke-linecap="round"/>
<ellipse cx="928.6" cy="175.6" rx="4.2" ry="2.0" fill="#c8502a" stroke="#4a2c1c" stroke-width="0.5"/>
<path d="M926.9,146.7 L929.1,162.4 L926.6,173.6" fill="none" stroke="#4a2c1c" stroke-width="7.4" stroke-linecap="butt" stroke-linejoin="round"/>
<path d="M926.9,146.7 L929.1,162.4 L926.6,173.6" fill="none" stroke="#3d74a0" stroke-width="6.0" stroke-linecap="butt" stroke-linejoin="round"/>
<ellipse cx="935.1" cy="176.6" rx="4.2" ry="2.0" fill="#c8502a" stroke="#4a2c1c" stroke-width="0.5"/>
<path d="M933.1,146.7 L931.9,161.7 L933.1,174.6" fill="none" stroke="#4a2c1c" stroke-width="7.4" stroke-linecap="butt" stroke-linejoin="round"/>
<path d="M933.1,146.7 L931.9,161.7 L933.1,174.6" fill="none" stroke="#3d74a0" stroke-width="6.0" stroke-linecap="butt" stroke-linejoin="round"/>
<path d="M922.8,126.1 L920.7,142.6 L921.6,149.4" fill="none" stroke="#4a2c1c" stroke-width="5.8" stroke-linecap="round" stroke-linejoin="round"/>
<path d="M922.8,126.1 L920.7,142.6 L921.6,149.4" fill="none" stroke="#7ab8dc" stroke-width="4.4" stroke-linecap="round" stroke-linejoin="round"/>
<path d="M923.5,115.6 Q920.1,124.9 922.4,131.3 L937.6,131.3 Q939.9,124.9 936.5,115.6 Z" fill="#6a3a20" stroke="#4a2c1c" stroke-width="0.6"/>
<path d="M922.0,126.7 Q922.0,122.6 925.6,121.6 L934.4,121.6 Q938.0,122.6 938.0,126.7 L937.1,148.8 L922.9,148.8 Z" fill="#7ab8dc" stroke="#4a2c1c" stroke-width="0.7" stroke-linejoin="round"/>
<path d="M937.2,126.1 L939.3,142.6 L938.7,149.4" fill="none" stroke="#4a2c1c" stroke-width="5.8" stroke-linecap="round" stroke-linejoin="round"/>
<path d="M937.2,126.1 L939.3,142.6 L938.7,149.4" fill="none" stroke="#7ab8dc" stroke-width="4.4" stroke-linecap="round" stroke-linejoin="round"/>
<circle cx="938.7" cy="151.1" r="2.2" fill="#f2bb92" stroke="#4a2c1c" stroke-width="0.4"/>
<circle cx="921.6" cy="151.1" r="2.2" fill="#f2bb92" stroke="#4a2c1c" stroke-width="0.4"/>
<rect x="927.9" y="120.2" width="4.2" height="4.4" fill="#f2bb92"/>
<circle cx="930.0" cy="116.7" r="5.8" fill="#f2bb92" stroke="#4a2c1c" stroke-width="0.7"/>
<path d="M923.6,119.9 Q922.4,109.1 930.0,109.6 Q937.6,109.1 936.4,119.9 Q935.8,113.8 930.9,112.0 Q924.4,114.1 923.6,119.9 Z" fill="#6a3a20" stroke="#4a2c1c" stroke-width="0.5"/>
<path d="M923.7,116.1 Q920.9,123.7 923.6,128.1 Q925.9,124.3 924.6,118.8 Z" fill="#6a3a20" stroke="#4a2c1c" stroke-width="0.4"/>
<path d="M936.3,116.1 Q939.1,123.7 936.4,128.1 Q934.1,124.3 935.4,118.8 Z" fill="#6a3a20" stroke="#4a2c1c" stroke-width="0.4"/>
<circle cx="928.6" cy="117.2" r="0.53" fill="#4a2c1c"/><circle cx="932.8" cy="117.2" r="0.53" fill="#4a2c1c"/>
<path d="M929.2,119.6 Q930.7,120.7 932.2,119.6" fill="none" stroke="#4a2c1c" stroke-width="0.47" stroke-linecap="round"/>
<path d="M920,148 Q926,145 931,149 L930,155 Q925,158 921,155 Z" fill="#d8622c" stroke="#4a2c1c" stroke-width="0.6"/>
<ellipse cx="950.5" cy="183.4" rx="4.6" ry="2.2" fill="#5a3626" stroke="#4a2c1c" stroke-width="0.5"/>
<path d="M948.7,152.0 L951.1,169.0 L948.3,181.2" fill="none" stroke="#4a2c1c" stroke-width="7.9" stroke-linecap="butt" stroke-linejoin="round"/>
<path d="M948.7,152.0 L951.1,169.0 L948.3,181.2" fill="none" stroke="#3d74a0" stroke-width="6.5" stroke-linecap="butt" stroke-linejoin="round"/>
<ellipse cx="957.6" cy="184.5" rx="4.6" ry="2.2" fill="#5a3626" stroke="#4a2c1c" stroke-width="0.5"/>
<path d="M955.3,152.0 L954.0,168.2 L955.3,182.3" fill="none" stroke="#4a2c1c" stroke-width="7.9" stroke-linecap="butt" stroke-linejoin="round"/>
<path d="M955.3,152.0 L954.0,168.2 L955.3,182.3" fill="none" stroke="#3d74a0" stroke-width="6.5" stroke-linecap="butt" stroke-linejoin="round"/>
<path d="M943.3,130.1 Q943.3,125.7 947.2,124.6 L956.8,124.6 Q960.7,125.7 960.7,130.1 L959.8,154.2 L944.2,154.2 Z" fill="#e8873a" stroke="#4a2c1c" stroke-width="0.7" stroke-linejoin="round"/>
<path d="M947.2,130.9 L956.8,130.9 L958.6,159.4 L945.4,159.4 Z" fill="#2f6a4a" stroke="#4a2c1c" stroke-width="0.5"/>
<path d="M944.1,129.5 L942.8,144.6 L951.1,142.3" fill="none" stroke="#4a2c1c" stroke-width="6.1" stroke-linecap="round" stroke-linejoin="round"/>
<path d="M944.1,129.5 L942.8,144.6 L951.1,142.3" fill="none" stroke="#e8873a" stroke-width="4.7" stroke-linecap="round" stroke-linejoin="round"/>
<path d="M959.9,129.5 L961.2,144.6 L952.9,140.9" fill="none" stroke="#4a2c1c" stroke-width="6.1" stroke-linecap="round" stroke-linejoin="round"/>
<path d="M959.9,129.5 L961.2,144.6 L952.9,140.9" fill="none" stroke="#e8873a" stroke-width="4.7" stroke-linecap="round" stroke-linejoin="round"/>
<circle cx="952.0" cy="140.9" r="2.6" fill="#f2bb92" stroke="#4a2c1c" stroke-width="0.4"/>
<rect x="949.7" y="123.1" width="4.6" height="4.8" fill="#f2bb92"/>
<circle cx="952.0" cy="119.3" r="6.4" fill="#f2bb92" stroke="#4a2c1c" stroke-width="0.7"/>
<path d="M945.3,119.0 Q943.7,111.0 951.4,111.0 Q960.0,110.7 958.7,119.0 Q957.1,115.8 953.3,116.1 Q948.2,116.5 945.3,119.0 Z" fill="#3a2418" stroke="#4a2c1c" stroke-width="0.5"/>
<circle cx="950.5" cy="119.8" r="0.57" fill="#4a2c1c"/><circle cx="955.1" cy="119.8" r="0.57" fill="#4a2c1c"/>
<path d="M951.2,122.5 Q952.8,123.6 954.4,122.5" fill="none" stroke="#4a2c1c" stroke-width="0.51" stroke-linecap="round"/>
<rect x="957" y="132.5" width="9" height="11.5" rx="1" fill="#b8c0c8" stroke="#4a2c1c" stroke-width="0.6" transform="rotate(18 961 138)"/>
<rect x="889.5" y="122" width="6" height="8" rx="0.8" fill="#c8d0d6" stroke="#4a2c1c" stroke-width="0.5" transform="rotate(12 892 126)"/>
<ellipse cx="989.5" cy="172.5" rx="18.7" ry="2.8" fill="#8a4a1c" opacity="0.35"/>
<path d="M974.4,128.3 L1004.6,128.3 L1000.3,170.0 Q989.5,173.5 978.7,170.0 Z" fill="#fbf5ea" stroke="#6a4a34" stroke-width="1.0"/>
<path d="M975.6,139.5 L1003.4,139.5 L1001.4,160.8 Q989.5,162.5 977.6,160.8 Z" fill="#b8794a" stroke="#6a4a34" stroke-width="0.7"/>
<circle cx="989.5" cy="150.2" r="6.1" fill="#2f8f5a" stroke="#1f5a3a" stroke-width="0.6"/>
<path d="M975.1,121.5 Q975.1,116.0 989.5,116.0 Q1003.9,116.0 1003.9,121.5 Z" fill="#ffffff" stroke="#6a4a34" stroke-width="1.0"/>
<rect x="971.5" y="121.2" width="36.0" height="8.1" rx="3.7" fill="#f6f1ea" stroke="#6a4a34" stroke-width="1.0"/>
<ellipse cx="989.5" cy="118.7" rx="10.8" ry="1.5" fill="#e4dcd0"/>
<g transform="translate(1017.0,123.5) scale(1.625)"><path d="M0.6,-1.5 Q0.3,-2.9 2,-2.9 L4.4,-2.9 L8.6,-5.3 Q9.9,-5.7 10.3,-4.6 L10,-2.9 L15,-2.9 Q16.2,-2.7 16.1,-1.6 Q16,-0.4 15,-0.3 L10.7,-0.3 Q11.1,1 10.2,1.8 Q10.4,3.2 9.4,3.8 Q9.2,5.2 8,5.3 L2.2,5.3 Q0.5,5.2 0.4,3.5 Z" fill="url(#gHand)"/><path d="M7.2,-0.3 L10.7,-0.3 M7,1.8 L10.2,1.8 M7.2,3.8 L9.4,3.8 M5.2,-2.9 L9.9,-2.9" stroke="#e39a1c" stroke-width="0.55" fill="none" stroke-linecap="round"/></g>
<g filter="url(#ts)">
<text x="1046.5" y="137.3" font-size="37" font-weight="bold" fill="#fffaf2" text-anchor="start" textLength="86.2" lengthAdjust="spacingAndGlyphs" font-family="'DejaVu Sans','Liberation Sans',sans-serif">£80</text>
<text x="1035.0" y="156.0" font-size="12.6" font-weight="bold" fill="#fffaf2" text-anchor="start" textLength="108.3" lengthAdjust="spacingAndGlyphs">Million Increase in</text>
<text x="1041.7" y="170.0" font-size="12.6" font-weight="bold" fill="#fffaf2" text-anchor="start" textLength="95.0" lengthAdjust="spacingAndGlyphs">Annual Revenue</text>
</g>
<clipPath id="cpPh1"><rect x="873" y="194" width="137.5" height="167" rx="11"/></clipPath>
<rect x="873" y="194" width="137.5" height="167" rx="11" fill="url(#gPh1)" filter="url(#shs)"/>
<g clip-path="url(#cpPh1)">
<circle cx="943" cy="268" r="60" fill="url(#gPh1c)" opacity="0.55"/>
<path d="M871,330 Q870,284 894,269 Q912,261 930,269 Q946,280 946,330 Z" fill="#2f9c64" stroke="#1f5a3c" stroke-width="1.2"/>
<path d="M905,267 Q915,276 926,268" fill="none" stroke="#2a7a46" stroke-width="2.5"/>
<path d="M952,330 Q950,288 968,276 Q985,268 1000,276 Q1012,284 1012,330 Z" fill="#f0882e" stroke="#8a4a1c" stroke-width="1.2"/>
<path d="M960,240 Q954,262 961,280 Q975,290 996,284 Q1004,276 1000,262 Q1006,250 1000,240 Q1004,226 992,224 Z" fill="#8a5632" stroke="#4a2c1c" stroke-width="1"/>
<path d="M986,226 Q994,214 1003,222 Q1010,232 1004,244 Q1010,256 1003,266 Q1006,276 998,282 Q994,270 998,258 Q992,246 996,236 Q992,230 986,226 Z" fill="#8a5632" stroke="#4a2c1c" stroke-width="1"/>
<path d="M969,264 h12 v14 q-6,7 -12,0 Z" fill="#eeb088"/>
<path d="M962,275 Q975,292 990,275 Q984,285 975,286 Q967,285 962,275 Z" fill="#f0b48a"/>
<ellipse cx="975" cy="253" rx="14.5" ry="17" fill="#f4bd94" stroke="#4a2c1c" stroke-width="1"/>
<path d="M959.5,256 Q956,228 977,227.500 Q993,228 991.500,250 Q985,242 980,234 Q970,244 959.5,256 Z" fill="#8a5632" stroke="#4a2c1c" stroke-width="0.9"/>
<path d="M966,251 q3,-3 6,0 M979,251 q3,-3 6,0" fill="none" stroke="#4a2c1c" stroke-width="1.2" stroke-linecap="round"/>
<path d="M968,259.500 Q975.500,268.500 984,259.500 Z" fill="#ffffff" stroke="#4a2c1c" stroke-width="0.9"/>
<path d="M906,252 h18 v18 q-9,8 -18,0 Z" fill="#b87848"/>
<ellipse cx="914" cy="245" rx="17.5" ry="20.500" fill="#c4845a" stroke="#3a2014" stroke-width="1"/>
<path d="M895.500,244 Q889,222 904,221 Q912,215 922,219 L928,216 Q934,226 932.500,244 Q929,234 922,231 Q908,230 899,236 Q896,240 895.500,244 Z" fill="#6a3e22" stroke="#3a2014" stroke-width="0.9"/>
<ellipse cx="896" cy="246" rx="3" ry="5" fill="#c4845a" stroke="#3a2014" stroke-width="0.8"/>
<circle cx="908" cy="241" r="1.6" fill="#3a2014"/><circle cx="922" cy="241" r="1.6" fill="#3a2014"/>
<path d="M904,236 q4,-2.5 8,0 M918,236 q4,-2.5 8,0" fill="none" stroke="#3a2014" stroke-width="1.3" stroke-linecap="round"/>
<path d="M906,251 Q915,262 925,250 Z" fill="#ffffff" stroke="#3a2014" stroke-width="0.9"/>
<linearGradient id="gTbl" x1="0" y1="0" x2="0" y2="1"><stop offset="0" stop-color="#d6935c"/><stop offset="1" stop-color="#bf7c48"/></linearGradient>
<rect x="870" y="323.5" width="145" height="42" fill="url(#gTbl)"/>
<path d="M880,340 h30 M950,352 h40 M900,356 h20" stroke="#b06e3e" stroke-width="0.8" opacity="0.6"/>
<path d="M878,300 Q874,322 886,326 L912,326 Q918,318 908,314 L894,310 Z" fill="#2f9c64" stroke="#1f5a3c" stroke-width="1"/>
<ellipse cx="915" cy="321" rx="7" ry="6" fill="#c4845a" stroke="#3a2014" stroke-width="0.8"/>
<path d="M909,309 h14 l-1.5,13 h-11 Z" fill="#7a4a2c" stroke="#3a2014" stroke-width="0.8"/><rect x="908" y="306.5" width="16" height="3.5" rx="1.2" fill="#5a3420" stroke="#3a2014" stroke-width="0.6"/>
<path d="M1008,300 Q1012,322 1000,326 L980,326 Q974,318 984,315 L996,311 Z" fill="#f0882e" stroke="#8a4a1c" stroke-width="1"/>
<path d="M966,313 h14 q0,12 -7,12 q-7,0 -7,-12 Z" fill="#fbf5ea" stroke="#6a4a34" stroke-width="0.8"/><path d="M980,315 q5,1 2,6 q-2,2 -4,1" fill="none" stroke="#6a4a34" stroke-width="0.9"/>
<ellipse cx="973" cy="327.5" rx="11" ry="2.6" fill="#fbf5ea" stroke="#6a4a34" stroke-width="0.7"/>
<ellipse cx="981" cy="322" rx="6" ry="5" fill="#f4bd94" stroke="#4a2c1c" stroke-width="0.8"/>
<path d="M971,309 q-2,-2 0,-4 q2,-2 0,-4" fill="none" stroke="#fbf0e0" stroke-width="0.9"/>
<ellipse cx="942" cy="338" rx="21" ry="6" fill="#fbf5ea" stroke="#6a4a34" stroke-width="0.9"/>
<ellipse cx="942" cy="339.0" rx="20.3" ry="2.7" fill="#8a4a1c" opacity="0.35"/>
<path d="M925.6,297.2 L958.4,297.2 L953.7,336.5 Q942.0,340.0 930.3,336.5 Z" fill="#fbf5ea" stroke="#6a4a34" stroke-width="1.0"/>
<path d="M927.0,307.8 L957.0,307.8 L954.9,327.9 Q942.0,329.5 929.1,327.9 Z" fill="#b8794a" stroke="#6a4a34" stroke-width="0.7"/>
<path d="M926.4,290.7 Q926.4,285.5 942.0,285.5 Q957.6,285.5 957.6,290.7 Z" fill="#ffffff" stroke="#6a4a34" stroke-width="1.0"/>
<rect x="922.5" y="290.4" width="39.0" height="7.7" rx="3.5" fill="#f6f1ea" stroke="#6a4a34" stroke-width="1.0"/>
<ellipse cx="942" cy="288.1" rx="11.7" ry="1.4" fill="#e4dcd0"/>
<path d="M938,282 q-4,-5 0,-10 q4,-5 0,-10 M946,282 q-4,-5 0,-10 q4,-5 0,-10" fill="none" stroke="#fdf3e4" stroke-width="1.6" stroke-linecap="round" opacity="0.9"/>
</g>
<rect x="1021" y="194" width="138" height="84" rx="11" fill="url(#gGrBox)" stroke="#7cc88a" stroke-width="1.2" filter="url(#shs)"/>
<g filter="url(#ts)">
<text x="1045.0" y="235.0" font-size="37" font-weight="bold" fill="#fbfff8" text-anchor="start" textLength="88.3" lengthAdjust="spacingAndGlyphs" font-family="'DejaVu Sans','Liberation Sans',sans-serif">50%</text>
<text x="1054.0" y="254.0" font-size="12.6" font-weight="bold" fill="#fbfff8" text-anchor="start" textLength="71.0" lengthAdjust="spacingAndGlyphs">Reduction in</text>
<text x="1038.3" y="267.4" font-size="12.6" font-weight="bold" fill="#fbfff8" text-anchor="start" textLength="101.7" lengthAdjust="spacingAndGlyphs">Customer Balking</text>
</g>
<clipPath id="cpPh2"><path d="M1021,270 H1159 V351 a10,10 0 0 1 -10,10 H1031 a10,10 0 0 1 -10,-10 Z"/></clipPath>
<rect x="1021" y="288.5" width="138" height="72.5" rx="10" fill="url(#gPh2)" filter="url(#shs)"/>
<g clip-path="url(#cpPh2)">
<rect x="1020" y="351" width="140" height="12" fill="#8e5632"/><rect x="1020" y="350.500" width="140" height="2.200" fill="#b87a4c"/>
<path d="M1035,351 Q1034,324 1047,318 Q1057,314 1067,318.500 Q1078,325 1078,351 Z" fill="#2b8cc4" stroke="#1f4f70" stroke-width="0.9"/>
<path d="M1050,316.500 l6.500,8 l6.500,-8 Z" fill="#f4bd94" stroke="#1f4f70" stroke-width="0.8"/>
<path d="M1049,317 l-3,5 l8,2 Z M1064,317 l3,5 l-8,2 Z" fill="#3a9ad0" stroke="#1f4f70" stroke-width="0.6"/>
<path d="M1044.500,312 Q1039,290 1056,287.500 Q1073,288 1069.500,314 Z" fill="#8a5a3a" stroke="#4a2c1c" stroke-width="0.8"/>
<ellipse cx="1057" cy="302" rx="10" ry="11.500" fill="#f4bd94" stroke="#4a2c1c" stroke-width="0.8"/>
<path d="M1046.500,304 Q1045,290 1058,289.500 Q1069,290 1067.500,303 Q1063,296 1059,293 Q1052,298 1046.500,304 Z" fill="#8a5a3a" stroke="#4a2c1c" stroke-width="0.7"/>
<circle cx="1053.500" cy="302" r="0.900" fill="#3a2014"/><circle cx="1061" cy="302" r="0.900" fill="#3a2014"/><path d="M1053.500,306.500 Q1057.500,311 1062,306.500 Z" fill="#fff" stroke="#3a2014" stroke-width="0.6"/>
<path d="M1038.500,331 Q1036,346 1048,348.500 L1061,348.500" fill="none" stroke="#f4bd94" stroke-width="5" stroke-linecap="round"/>
<path d="M1064,335 h12.500 q0,12.500 -6.250,12.500 q-6.250,0 -6.250,-12.500 Z" fill="#fbf5ea" stroke="#6a4a34" stroke-width="0.8"/><path d="M1064,338 q-5,0 -4,5 q1,3 5,3" fill="none" stroke="#fbf5ea" stroke-width="1.7"/>
<ellipse cx="1070" cy="335.300" rx="5.600" ry="1.300" fill="#7a4a2c"/>
<ellipse cx="1070" cy="349.300" rx="10" ry="2.200" fill="#fbf5ea" stroke="#6a4a34" stroke-width="0.6"/>
<path d="M1068,332 q-2,-2 0,-4 q2,-2 0,-4 M1072.500,332 q-2,-2 0,-4 q2,-2 0,-4" fill="none" stroke="#8a5230" stroke-width="0.8"/>
<path d="M1083,301 h8 M1084,309 h12 M1077,316.500 h11 M1079,322 h10" stroke="#f4fbf8" stroke-width="1.200" opacity="0.95"/>
<path d="M1090,298.300 l4.500,2.700 l-4.500,2.700 Z M1095,306.300 l4.500,2.700 l-4.500,2.700 Z" fill="#f4fbf8"/>
<path d="M1102,351 Q1102,324 1113,318 Q1124,313 1135,317.500 Q1146,324 1145,351 Z" fill="#f0882e" stroke="#8a4a1c" stroke-width="0.9"/>
<path d="M1118,316 l5,6 l5,-6 Z" fill="#f4bd94" stroke="#8a4a1c" stroke-width="0.600"/>
<path d="M1112,326 L1134,326 L1136,351 L1110,351 Z" fill="#476664" stroke="#24403c" stroke-width="0.8"/>
<path d="M1113.500,326 L1116,315 M1132.500,326 L1130,315" stroke="#476664" stroke-width="2"/>
<rect x="1124" y="327.500" width="5" height="1.400" fill="#dfe8e4"/>
<ellipse cx="1121" cy="300.500" rx="10.500" ry="12" fill="#f4bd94" stroke="#4a2c1c" stroke-width="0.8"/>
<path d="M1110,300 Q1106,284 1118,285 Q1124,278 1131,284 Q1136,290 1132.500,302 Q1130,293 1124,291 Q1115,292 1110,300 Z" fill="#3c3634" stroke="#24140c" stroke-width="0.8"/>
<circle cx="1117" cy="300" r="0.900" fill="#3a2014"/><circle cx="1125" cy="300" r="0.900" fill="#3a2014"/><path d="M1115.500,305.500 Q1120.500,310.500 1126.500,305.500 Z" fill="#fff" stroke="#3a2014" stroke-width="0.6"/>
<path d="M1141,330 Q1146,344 1134,346 L1122,345" fill="none" stroke="#f4bd94" stroke-width="4.500" stroke-linecap="round"/>
<path d="M1137,321 Q1147,324 1144.500,338 L1136.500,337 Z" fill="#f0882e" stroke="#8a4a1c" stroke-width="0.700"/>
<path d="M1082,332 H1107 L1111.500,350.500 H1087 Z" fill="#aeb6be" stroke="#4a525a" stroke-width="0.8"/><circle cx="1096.500" cy="341.500" r="1.900" fill="#f4f6f8"/>
<path d="M1110,349.500 h14 v1.800 h-14 Z" fill="#8a929a" stroke="#4a525a" stroke-width="0.5"/>
</g>
<rect x="873" y="372" width="137.5" height="84" rx="11" fill="url(#gOrBox)" stroke="#f9a85a" stroke-width="1.2" filter="url(#shs)"/>
<rect x="1021" y="372" width="138" height="84" rx="11" fill="url(#gTeBox)" stroke="#5cc0cc" stroke-width="1.2" filter="url(#shs)"/>
<g filter="url(#ts)">
<text x="895.3" y="410.0" font-size="37" font-weight="bold" fill="#fffaf2" text-anchor="start" textLength="92.0" lengthAdjust="spacingAndGlyphs" font-family="'DejaVu Sans','Liberation Sans',sans-serif">40%</text>
<text x="906.0" y="430.8" font-size="12.6" font-weight="bold" fill="#fffaf2" text-anchor="start" textLength="70.7" lengthAdjust="spacingAndGlyphs">Reduction in</text>
<text x="889.3" y="444.8" font-size="12.6" font-weight="bold" fill="#fffaf2" text-anchor="start" textLength="103.4" lengthAdjust="spacingAndGlyphs">Service Wait Time</text>
<text x="1045.0" y="410.0" font-size="37" font-weight="bold" fill="#f8ffff" text-anchor="start" textLength="89.0" lengthAdjust="spacingAndGlyphs" font-family="'DejaVu Sans','Liberation Sans',sans-serif">20%</text>
<text x="1054.0" y="430.8" font-size="12.6" font-weight="bold" fill="#f8ffff" text-anchor="start" textLength="71.0" lengthAdjust="spacingAndGlyphs">Reduction in</text>
<text x="1030.0" y="444.8" font-size="12.6" font-weight="bold" fill="#f8ffff" text-anchor="start" textLength="118.3" lengthAdjust="spacingAndGlyphs">Collection Wait Time</text>
</g>
</g>
<g id="outcome">
<rect x="867.5" y="481.5" width="296.5" height="27.5" rx="13.7" fill="url(#gTe)"/>
<g filter="url(#ts)">
<text x="924.0" y="501.4" font-size="16" font-weight="bold" fill="#f8ffff" text-anchor="start" textLength="182.7" lengthAdjust="spacingAndGlyphs">OUTCOME: EXPERIENCE</text>
</g>
<g transform="translate(919.2,534.5)"><path d="M0,0 L3.5,-14.500 Q10,-16 14.500,-8.500 Z" fill="#f7c03a" stroke="#5a3a14" stroke-width="0.8" stroke-linejoin="round"/><path d="M1.6,-6.500 L7.6,-4 L5.2,-2.800 L1,-4 Z M2.8,-11.500 L12.2,-6.800 L10,-5.500 L2.300,-9.300 Z" fill="#ee7a2a"/><ellipse cx="9" cy="-12" rx="6.300" ry="2.600" transform="rotate(38 9 -12)" fill="#e8962e" stroke="#5a3a14" stroke-width="0.8"/><path d="M9,-15 q-3,-3 -1,-6.500 M12.500,-14 q1,-4 5,-5 M15,-10.500 q3,-2 6,-0.500 M16,-6.500 q3,0 4,2.500" fill="none" stroke="#3a8ad0" stroke-width="0.9" stroke-linecap="round"/><path d="M12,-17 q2,-3 1,-5.500 M17.500,-13.500 q3,-3 2.500,-5" fill="none" stroke="#e8553a" stroke-width="0.9" stroke-linecap="round"/><circle cx="5.500" cy="-19.500" r="1" fill="#3a8ad0"/><circle cx="16" cy="-20.500" r="1" fill="#f0a030"/><circle cx="21.500" cy="-8" r="0.900" fill="#e8553a"/><circle cx="20.500" cy="-15" r="0.800" fill="#3aa868"/><circle cx="19" cy="-1.500" r="0.800" fill="#3a8ad0"/></g>
<g transform="translate(1104,534.5)"><path d="M0,0 L3.5,-14.500 Q10,-16 14.500,-8.500 Z" fill="#f7c03a" stroke="#5a3a14" stroke-width="0.8" stroke-linejoin="round"/><path d="M1.6,-6.500 L7.6,-4 L5.2,-2.800 L1,-4 Z M2.8,-11.500 L12.2,-6.800 L10,-5.500 L2.300,-9.300 Z" fill="#ee7a2a"/><ellipse cx="9" cy="-12" rx="6.300" ry="2.600" transform="rotate(38 9 -12)" fill="#e8962e" stroke="#5a3a14" stroke-width="0.8"/><path d="M9,-15 q-3,-3 -1,-6.500 M12.500,-14 q1,-4 5,-5 M15,-10.500 q3,-2 6,-0.500 M16,-6.500 q3,0 4,2.500" fill="none" stroke="#3a8ad0" stroke-width="0.9" stroke-linecap="round"/><path d="M12,-17 q2,-3 1,-5.500 M17.500,-13.500 q3,-3 2.500,-5" fill="none" stroke="#e8553a" stroke-width="0.9" stroke-linecap="round"/><circle cx="5.500" cy="-19.500" r="1" fill="#3a8ad0"/><circle cx="16" cy="-20.500" r="1" fill="#f0a030"/><circle cx="21.500" cy="-8" r="0.900" fill="#e8553a"/><circle cx="20.500" cy="-15" r="0.800" fill="#3aa868"/><circle cx="19" cy="-1.500" r="0.800" fill="#3a8ad0"/></g>
<rect x="1012.500" y="522.800" width="5.500" height="11" rx="0.800" fill="#2f86c0" stroke="#1a3f5c" stroke-width="0.800"/>
<path d="M1018,524 Q1022,523 1023.500,518.500 Q1024,515 1026.300,515.300 Q1028.300,516 1027.200,520.500 L1026.500,522.500 H1031 Q1033,522.800 1032.600,524.800 Q1033.300,526.300 1032.300,527.700 Q1032.800,529.300 1031.600,530.500 Q1031.800,533 1029.500,533.300 H1022 Q1019.500,533.300 1018,532.300 Z" fill="#f4b78a" stroke="#5a2c14" stroke-width="0.800" stroke-linejoin="round"/>
<path d="M1029.500,516 l1.800,-2 M1031.500,518.500 l2.500,-1 M1027.700,514 l0.400,-2" stroke="#222" stroke-width="0.700" stroke-linecap="round"/>
<g transform="translate(868.3,543.0) scale(0.750)"><path d="M0.6,-1.5 Q0.3,-2.9 2,-2.9 L4.4,-2.9 L8.6,-5.3 Q9.9,-5.7 10.3,-4.6 L10,-2.9 L15,-2.9 Q16.2,-2.7 16.1,-1.6 Q16,-0.4 15,-0.3 L10.7,-0.3 Q11.1,1 10.2,1.8 Q10.4,3.2 9.4,3.8 Q9.2,5.2 8,5.3 L2.2,5.3 Q0.5,5.2 0.4,3.5 Z" fill="url(#gHand)"/><path d="M7.2,-0.3 L10.7,-0.3 M7,1.8 L10.2,1.8 M7.2,3.8 L9.4,3.8 M5.2,-2.9 L9.9,-2.9" stroke="#e39a1c" stroke-width="0.55" fill="none" stroke-linecap="round"/></g>
<text x="882.7" y="547.4" font-size="11.6" font-weight="bold" fill="#1c1c1c" text-anchor="start" textLength="93.3" lengthAdjust="spacingAndGlyphs">Improved customer</text>
<text x="903.3" y="558.9" font-size="11.6" font-weight="bold" fill="#1c1c1c" text-anchor="start" textLength="52.7" lengthAdjust="spacingAndGlyphs">experience</text>
<g transform="translate(991.7,543.0) scale(0.750)"><path d="M0.6,-1.5 Q0.3,-2.9 2,-2.9 L4.4,-2.9 L8.6,-5.3 Q9.9,-5.7 10.3,-4.6 L10,-2.9 L15,-2.9 Q16.2,-2.7 16.1,-1.6 Q16,-0.4 15,-0.3 L10.7,-0.3 Q11.1,1 10.2,1.8 Q10.4,3.2 9.4,3.8 Q9.2,5.2 8,5.3 L2.2,5.3 Q0.5,5.2 0.4,3.5 Z" fill="url(#gHand)"/><path d="M7.2,-0.3 L10.7,-0.3 M7,1.8 L10.2,1.8 M7.2,3.8 L9.4,3.8 M5.2,-2.9 L9.9,-2.9" stroke="#e39a1c" stroke-width="0.55" fill="none" stroke-linecap="round"/></g>
<text x="1006.7" y="547.4" font-size="11.6" font-weight="bold" fill="#1c1c1c" text-anchor="start" textLength="31.6" lengthAdjust="spacingAndGlyphs">Higher</text>
<text x="996.0" y="558.9" font-size="11.6" font-weight="bold" fill="#1c1c1c" text-anchor="start" textLength="52.3" lengthAdjust="spacingAndGlyphs">conversion</text>
<g transform="translate(1079.3,543.0) scale(0.750)"><path d="M0.6,-1.5 Q0.3,-2.9 2,-2.9 L4.4,-2.9 L8.6,-5.3 Q9.9,-5.7 10.3,-4.6 L10,-2.9 L15,-2.9 Q16.2,-2.7 16.1,-1.6 Q16,-0.4 15,-0.3 L10.7,-0.3 Q11.1,1 10.2,1.8 Q10.4,3.2 9.4,3.8 Q9.2,5.2 8,5.3 L2.2,5.3 Q0.5,5.2 0.4,3.5 Z" fill="url(#gHand)"/><path d="M7.2,-0.3 L10.7,-0.3 M7,1.8 L10.2,1.8 M7.2,3.8 L9.4,3.8 M5.2,-2.9 L9.9,-2.9" stroke="#e39a1c" stroke-width="0.55" fill="none" stroke-linecap="round"/></g>
<text x="1093.3" y="547.4" font-size="11.6" font-weight="bold" fill="#1c1c1c" text-anchor="start" textLength="41.0" lengthAdjust="spacingAndGlyphs">Scalable</text>
<text x="1071.7" y="558.9" font-size="11.6" font-weight="bold" fill="#1c1c1c" text-anchor="start" textLength="84.3" lengthAdjust="spacingAndGlyphs">predictive system</text>
</g>
</svg>
</body></html>
